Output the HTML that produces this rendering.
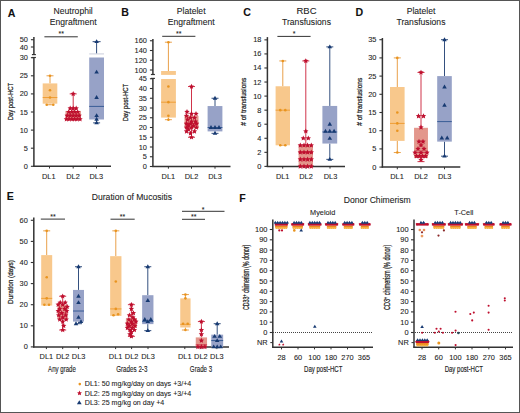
<!DOCTYPE html>
<html><head><meta charset="utf-8"><style>
html,body{margin:0;padding:0;background:#fff;}
body{width:520px;height:413px;overflow:hidden;position:relative;}
svg{display:block;position:absolute;left:0;top:0;}
.frame{position:absolute;left:0;top:0;width:518px;height:411px;border:1px solid #555;pointer-events:none;}
</style></head><body>
<svg width="520" height="413" viewBox="0 0 520 413" font-family='"Liberation Sans", sans-serif'>
<rect x="0" y="0" width="520" height="413" fill="#ffffff" />
<text x="7.8" y="16.6" font-size="10.6" text-anchor="start" font-weight="bold" fill="#111" stroke="#111" stroke-width="0.08" >A</text>
<text x="121.3" y="16.2" font-size="10.6" text-anchor="start" font-weight="bold" fill="#111" stroke="#111" stroke-width="0.08" >B</text>
<text x="243.2" y="16.2" font-size="10.6" text-anchor="start" font-weight="bold" fill="#111" stroke="#111" stroke-width="0.08" >C</text>
<text x="355.4" y="16.2" font-size="10.6" text-anchor="start" font-weight="bold" fill="#111" stroke="#111" stroke-width="0.08" >D</text>
<text x="6.75" y="200" font-size="10.6" text-anchor="start" font-weight="bold" fill="#111" stroke="#111" stroke-width="0.08" >E</text>
<text x="239.25" y="202" font-size="10.6" text-anchor="start" font-weight="bold" fill="#111" stroke="#111" stroke-width="0.08" >F</text>
<text x="73.2" y="14.2" font-size="8.6" text-anchor="middle" font-weight="normal" fill="#222222" stroke="#222222" stroke-width="0.08" >Neutrophil</text>
<text x="73.2" y="24.8" font-size="8.6" text-anchor="middle" font-weight="normal" fill="#222222" stroke="#222222" stroke-width="0.08" >Engraftment</text>
<text x="191.2" y="14.2" font-size="8.6" text-anchor="middle" font-weight="normal" fill="#222222" stroke="#222222" stroke-width="0.08" >Platelet</text>
<text x="191.2" y="24.8" font-size="8.6" text-anchor="middle" font-weight="normal" fill="#222222" stroke="#222222" stroke-width="0.08" >Engraftment</text>
<text x="306.5" y="14.2" font-size="8.6" text-anchor="middle" font-weight="normal" fill="#222222" stroke="#222222" stroke-width="0.08" textLength="20" lengthAdjust="spacingAndGlyphs" >RBC</text>
<text x="306.5" y="24.8" font-size="8.6" text-anchor="middle" font-weight="normal" fill="#222222" stroke="#222222" stroke-width="0.08" >Transfusions</text>
<text x="421" y="14.2" font-size="8.6" text-anchor="middle" font-weight="normal" fill="#222222" stroke="#222222" stroke-width="0.08" >Platelet</text>
<text x="421" y="24.8" font-size="8.6" text-anchor="middle" font-weight="normal" fill="#222222" stroke="#222222" stroke-width="0.08" >Transfusions</text>
<line x1="33.9" y1="57.5" x2="33.9" y2="166.8" stroke="#333333" stroke-width="1.5" />
<line x1="33.9" y1="37" x2="33.9" y2="54.6" stroke="#333333" stroke-width="1.5" />
<line x1="30.9" y1="166.3" x2="33.9" y2="166.3" stroke="#333333" stroke-width="1.1" />
<text x="27.9" y="168.8" font-size="7.4" text-anchor="end" font-weight="normal" fill="#222222" stroke="#222222" stroke-width="0.08" >0</text>
<line x1="30.9" y1="148.20000000000002" x2="33.9" y2="148.20000000000002" stroke="#333333" stroke-width="1.1" />
<text x="27.9" y="150.70000000000002" font-size="7.4" text-anchor="end" font-weight="normal" fill="#222222" stroke="#222222" stroke-width="0.08" >5</text>
<line x1="30.9" y1="130.10000000000002" x2="33.9" y2="130.10000000000002" stroke="#333333" stroke-width="1.1" />
<text x="27.9" y="132.60000000000002" font-size="7.4" text-anchor="end" font-weight="normal" fill="#222222" stroke="#222222" stroke-width="0.08" >10</text>
<line x1="30.9" y1="112.0" x2="33.9" y2="112.0" stroke="#333333" stroke-width="1.1" />
<text x="27.9" y="114.5" font-size="7.4" text-anchor="end" font-weight="normal" fill="#222222" stroke="#222222" stroke-width="0.08" >15</text>
<line x1="30.9" y1="93.9" x2="33.9" y2="93.9" stroke="#333333" stroke-width="1.1" />
<text x="27.9" y="96.4" font-size="7.4" text-anchor="end" font-weight="normal" fill="#222222" stroke="#222222" stroke-width="0.08" >20</text>
<line x1="30.9" y1="75.80000000000001" x2="33.9" y2="75.80000000000001" stroke="#333333" stroke-width="1.1" />
<text x="27.9" y="78.30000000000001" font-size="7.4" text-anchor="end" font-weight="normal" fill="#222222" stroke="#222222" stroke-width="0.08" >25</text>
<line x1="30.9" y1="57.7" x2="33.9" y2="57.7" stroke="#333333" stroke-width="1.1" />
<text x="27.9" y="60.2" font-size="7.4" text-anchor="end" font-weight="normal" fill="#222222" stroke="#222222" stroke-width="0.08" >30</text>
<line x1="30.9" y1="47.0" x2="33.9" y2="47.0" stroke="#333333" stroke-width="1.1" />
<text x="27.9" y="49.5" font-size="7.4" text-anchor="end" font-weight="normal" fill="#222222" stroke="#222222" stroke-width="0.08" >40</text>
<line x1="30.9" y1="39.699999999999996" x2="33.9" y2="39.699999999999996" stroke="#333333" stroke-width="1.1" />
<text x="27.9" y="42.199999999999996" font-size="7.4" text-anchor="end" font-weight="normal" fill="#222222" stroke="#222222" stroke-width="0.08" >50</text>
<line x1="31.9" y1="54.6" x2="35.9" y2="54.6" stroke="#333333" stroke-width="1.2" />
<line x1="31.9" y1="57.5" x2="35.9" y2="57.5" stroke="#333333" stroke-width="1.2" />
<line x1="33.2" y1="166.3" x2="111" y2="166.3" stroke="#333333" stroke-width="1.5" />
<line x1="49.5" y1="166.3" x2="49.5" y2="168.5" stroke="#333333" stroke-width="1" />
<line x1="73.2" y1="166.3" x2="73.2" y2="168.5" stroke="#333333" stroke-width="1" />
<line x1="96.5" y1="166.3" x2="96.5" y2="168.5" stroke="#333333" stroke-width="1" />
<text x="48.75" y="179.1" font-size="7.4" text-anchor="middle" font-weight="normal" fill="#222222" stroke="#222222" stroke-width="0.08" >DL1</text>
<text x="73" y="179.1" font-size="7.4" text-anchor="middle" font-weight="normal" fill="#222222" stroke="#222222" stroke-width="0.08" >DL2</text>
<text x="96.3" y="179.1" font-size="7.4" text-anchor="middle" font-weight="normal" fill="#222222" stroke="#222222" stroke-width="0.08" >DL3</text>
<g transform="translate(12.9 101.6) rotate(-90) scale(0.7590 1)"><text x="-24.71" y="0" fill="#222222" stroke="#222222" stroke-width="0.25"><tspan font-size="7.8" dy="0">Day post-HCT</tspan></text></g>
<line x1="44.4" y1="36.8" x2="77.8" y2="36.8" stroke="#333333" stroke-width="1" />
<text x="61.3" y="36.3" font-size="7" text-anchor="middle" font-weight="normal" fill="#222222" stroke="#222222" stroke-width="0.08" >**</text>
<rect x="89.2" y="57.5" width="14.8" height="62.0" fill="#97A2C7" />
<rect x="89.2" y="53.3" width="14.8" height="1.2" fill="#D3D6E2" />
<line x1="96.6" y1="41.671" x2="96.6" y2="53.3" stroke="#2E4A7A" stroke-width="1" />
<line x1="92.6" y1="41.671" x2="100.6" y2="41.671" stroke="#2E4A7A" stroke-width="1" />
<line x1="93.1" y1="122.86000000000001" x2="100.1" y2="122.86000000000001" stroke="#34507F" stroke-width="1" />
<line x1="96.6" y1="119.5" x2="96.6" y2="122.86000000000001" stroke="#34507F" stroke-width="1" />
<line x1="89.2" y1="106.4" x2="104" y2="106.4" stroke="#2E5590" stroke-width="0.9" />
<polygon points="96.60,39.27 98.88,43.11 94.32,43.11" fill="#173A72"/>
<polygon points="96.60,69.78 98.88,73.62 94.32,73.62" fill="#173A72"/>
<polygon points="96.60,95.12 98.88,98.96 94.32,98.96" fill="#173A72"/>
<polygon points="96.60,113.22 98.88,117.06 94.32,117.06" fill="#173A72"/>
<polygon points="96.60,116.84 98.88,120.68 94.32,120.68" fill="#173A72"/>
<polygon points="96.60,120.46 98.88,124.30 94.32,124.30" fill="#173A72"/>
<line x1="50" y1="75.80000000000001" x2="50" y2="83.40200000000002" stroke="#E9A04A" stroke-width="1" />
<line x1="50" y1="103.674" x2="50" y2="104.76000000000002" stroke="#E9A04A" stroke-width="1" />
<line x1="46.5" y1="75.80000000000001" x2="53.5" y2="75.80000000000001" stroke="#E9A04A" stroke-width="1" />
<line x1="46.5" y1="104.76000000000002" x2="53.5" y2="104.76000000000002" stroke="#E9A04A" stroke-width="1" />
<rect x="42.7" y="83.40200000000002" width="14.6" height="20.27199999999999" fill="#F8C88C" />
<line x1="42.7" y1="97.52000000000001" x2="57.3" y2="97.52000000000001" stroke="#EE9A2E" stroke-width="0.9" />
<circle cx="46.70" cy="104.76" r="1.3" fill="#E9941F"/>
<circle cx="53.30" cy="104.76" r="1.3" fill="#E9941F"/>
<circle cx="50.00" cy="97.52" r="1.3" fill="#E9941F"/>
<circle cx="50.00" cy="90.28" r="1.3" fill="#E9941F"/>
<circle cx="50.00" cy="75.80" r="1.3" fill="#E9941F"/>
<line x1="73.2" y1="93.9" x2="73.2" y2="110.91400000000002" stroke="#D0344A" stroke-width="1" />
<line x1="73.2" y1="119.964" x2="73.2" y2="119.24000000000001" stroke="#D0344A" stroke-width="1" />
<line x1="69.7" y1="93.9" x2="76.7" y2="93.9" stroke="#D0344A" stroke-width="1" />
<line x1="69.7" y1="119.24000000000001" x2="76.7" y2="119.24000000000001" stroke="#D0344A" stroke-width="1" />
<rect x="65.45" y="110.91400000000002" width="15.5" height="9.049999999999983" fill="#E3978C" />
<line x1="65.45" y1="115.62" x2="80.95" y2="115.62" stroke="#D0344A" stroke-width="0.9" />
<polygon points="73.20,91.10 73.99,92.81 75.86,93.03 74.48,94.32 74.85,96.17 73.20,95.24 71.55,96.17 71.92,94.32 70.54,93.03 72.41,92.81" fill="#BE0F2E"/>
<polygon points="70.20,105.58 70.99,107.29 72.86,107.51 71.48,108.80 71.85,110.65 70.20,109.72 68.55,110.65 68.92,108.80 67.54,107.51 69.41,107.29" fill="#BE0F2E"/>
<polygon points="73.20,105.58 73.99,107.29 75.86,107.51 74.48,108.80 74.85,110.65 73.20,109.72 71.55,110.65 71.92,108.80 70.54,107.51 72.41,107.29" fill="#BE0F2E"/>
<polygon points="76.20,105.58 76.99,107.29 78.86,107.51 77.48,108.80 77.85,110.65 76.20,109.72 74.55,110.65 74.92,108.80 73.54,107.51 75.41,107.29" fill="#BE0F2E"/>
<polygon points="68.70,109.20 69.49,110.91 71.36,111.13 69.98,112.42 70.35,114.27 68.70,113.34 67.05,114.27 67.42,112.42 66.04,111.13 67.91,110.91" fill="#BE0F2E"/>
<polygon points="71.70,109.20 72.49,110.91 74.36,111.13 72.98,112.42 73.35,114.27 71.70,113.34 70.05,114.27 70.42,112.42 69.04,111.13 70.91,110.91" fill="#BE0F2E"/>
<polygon points="74.70,109.20 75.49,110.91 77.36,111.13 75.98,112.42 76.35,114.27 74.70,113.34 73.05,114.27 73.42,112.42 72.04,111.13 73.91,110.91" fill="#BE0F2E"/>
<polygon points="77.70,109.20 78.49,110.91 80.36,111.13 78.98,112.42 79.35,114.27 77.70,113.34 76.05,114.27 76.42,112.42 75.04,111.13 76.91,110.91" fill="#BE0F2E"/>
<polygon points="67.20,112.82 67.99,114.53 69.86,114.75 68.48,116.04 68.85,117.89 67.20,116.96 65.55,117.89 65.92,116.04 64.54,114.75 66.41,114.53" fill="#BE0F2E"/>
<polygon points="70.20,112.82 70.99,114.53 72.86,114.75 71.48,116.04 71.85,117.89 70.20,116.96 68.55,117.89 68.92,116.04 67.54,114.75 69.41,114.53" fill="#BE0F2E"/>
<polygon points="73.20,112.82 73.99,114.53 75.86,114.75 74.48,116.04 74.85,117.89 73.20,116.96 71.55,117.89 71.92,116.04 70.54,114.75 72.41,114.53" fill="#BE0F2E"/>
<polygon points="76.20,112.82 76.99,114.53 78.86,114.75 77.48,116.04 77.85,117.89 76.20,116.96 74.55,117.89 74.92,116.04 73.54,114.75 75.41,114.53" fill="#BE0F2E"/>
<polygon points="79.20,112.82 79.99,114.53 81.86,114.75 80.48,116.04 80.85,117.89 79.20,116.96 77.55,117.89 77.92,116.04 76.54,114.75 78.41,114.53" fill="#BE0F2E"/>
<polygon points="66.40,116.44 67.19,118.15 69.06,118.37 67.68,119.66 68.05,121.51 66.40,120.58 64.75,121.51 65.12,119.66 63.74,118.37 65.61,118.15" fill="#BE0F2E"/>
<polygon points="69.20,116.44 69.99,118.15 71.86,118.37 70.48,119.66 70.85,121.51 69.20,120.58 67.55,121.51 67.92,119.66 66.54,118.37 68.41,118.15" fill="#BE0F2E"/>
<polygon points="71.90,116.44 72.69,118.15 74.56,118.37 73.18,119.66 73.55,121.51 71.90,120.58 70.25,121.51 70.62,119.66 69.24,118.37 71.11,118.15" fill="#BE0F2E"/>
<polygon points="74.50,116.44 75.29,118.15 77.16,118.37 75.78,119.66 76.15,121.51 74.50,120.58 72.85,121.51 73.22,119.66 71.84,118.37 73.71,118.15" fill="#BE0F2E"/>
<polygon points="77.20,116.44 77.99,118.15 79.86,118.37 78.48,119.66 78.85,121.51 77.20,120.58 75.55,121.51 75.92,119.66 74.54,118.37 76.41,118.15" fill="#BE0F2E"/>
<polygon points="80.00,116.44 80.79,118.15 82.66,118.37 81.28,119.66 81.65,121.51 80.00,120.58 78.35,121.51 78.72,119.66 77.34,118.37 79.21,118.15" fill="#BE0F2E"/>
<line x1="152.9" y1="78.4" x2="152.9" y2="166.8" stroke="#333333" stroke-width="1.5" />
<line x1="152.9" y1="39" x2="152.9" y2="74.5" stroke="#333333" stroke-width="1.5" />
<line x1="149.9" y1="166.5" x2="152.9" y2="166.5" stroke="#333333" stroke-width="1.1" />
<text x="146.9" y="169.0" font-size="7.4" text-anchor="end" font-weight="normal" fill="#222222" stroke="#222222" stroke-width="0.08" >0</text>
<line x1="149.9" y1="156.75" x2="152.9" y2="156.75" stroke="#333333" stroke-width="1.1" />
<text x="146.9" y="159.25" font-size="7.4" text-anchor="end" font-weight="normal" fill="#222222" stroke="#222222" stroke-width="0.08" >5</text>
<line x1="149.9" y1="147.0" x2="152.9" y2="147.0" stroke="#333333" stroke-width="1.1" />
<text x="146.9" y="149.5" font-size="7.4" text-anchor="end" font-weight="normal" fill="#222222" stroke="#222222" stroke-width="0.08" >10</text>
<line x1="149.9" y1="137.25" x2="152.9" y2="137.25" stroke="#333333" stroke-width="1.1" />
<text x="146.9" y="139.75" font-size="7.4" text-anchor="end" font-weight="normal" fill="#222222" stroke="#222222" stroke-width="0.08" >15</text>
<line x1="149.9" y1="127.5" x2="152.9" y2="127.5" stroke="#333333" stroke-width="1.1" />
<text x="146.9" y="130.0" font-size="7.4" text-anchor="end" font-weight="normal" fill="#222222" stroke="#222222" stroke-width="0.08" >20</text>
<line x1="149.9" y1="117.75" x2="152.9" y2="117.75" stroke="#333333" stroke-width="1.1" />
<text x="146.9" y="120.25" font-size="7.4" text-anchor="end" font-weight="normal" fill="#222222" stroke="#222222" stroke-width="0.08" >25</text>
<line x1="149.9" y1="108.0" x2="152.9" y2="108.0" stroke="#333333" stroke-width="1.1" />
<text x="146.9" y="110.5" font-size="7.4" text-anchor="end" font-weight="normal" fill="#222222" stroke="#222222" stroke-width="0.08" >30</text>
<line x1="149.9" y1="98.25" x2="152.9" y2="98.25" stroke="#333333" stroke-width="1.1" />
<text x="146.9" y="100.75" font-size="7.4" text-anchor="end" font-weight="normal" fill="#222222" stroke="#222222" stroke-width="0.08" >35</text>
<line x1="149.9" y1="88.5" x2="152.9" y2="88.5" stroke="#333333" stroke-width="1.1" />
<text x="146.9" y="91.0" font-size="7.4" text-anchor="end" font-weight="normal" fill="#222222" stroke="#222222" stroke-width="0.08" >40</text>
<line x1="149.9" y1="78.75" x2="152.9" y2="78.75" stroke="#333333" stroke-width="1.1" />
<text x="146.9" y="81.25" font-size="7.4" text-anchor="end" font-weight="normal" fill="#222222" stroke="#222222" stroke-width="0.08" >45</text>
<line x1="149.9" y1="70.0" x2="152.9" y2="70.0" stroke="#333333" stroke-width="1.1" />
<text x="146.9" y="72.5" font-size="7.4" text-anchor="end" font-weight="normal" fill="#222222" stroke="#222222" stroke-width="0.08" >100</text>
<line x1="149.9" y1="60.25" x2="152.9" y2="60.25" stroke="#333333" stroke-width="1.1" />
<text x="146.9" y="62.75" font-size="7.4" text-anchor="end" font-weight="normal" fill="#222222" stroke="#222222" stroke-width="0.08" >120</text>
<line x1="149.9" y1="50.5" x2="152.9" y2="50.5" stroke="#333333" stroke-width="1.1" />
<text x="146.9" y="53.0" font-size="7.4" text-anchor="end" font-weight="normal" fill="#222222" stroke="#222222" stroke-width="0.08" >140</text>
<line x1="149.9" y1="40.75" x2="152.9" y2="40.75" stroke="#333333" stroke-width="1.1" />
<text x="146.9" y="43.25" font-size="7.4" text-anchor="end" font-weight="normal" fill="#222222" stroke="#222222" stroke-width="0.08" >160</text>
<line x1="150.9" y1="74.5" x2="154.9" y2="74.5" stroke="#333333" stroke-width="1.2" />
<line x1="150.9" y1="78.4" x2="154.9" y2="78.4" stroke="#333333" stroke-width="1.2" />
<line x1="152.2" y1="166.5" x2="230.5" y2="166.5" stroke="#333333" stroke-width="1.5" />
<line x1="168.4" y1="166.5" x2="168.4" y2="168.7" stroke="#333333" stroke-width="1" />
<line x1="191.5" y1="166.5" x2="191.5" y2="168.7" stroke="#333333" stroke-width="1" />
<line x1="215" y1="166.5" x2="215" y2="168.7" stroke="#333333" stroke-width="1" />
<text x="168.4" y="179.1" font-size="7.4" text-anchor="middle" font-weight="normal" fill="#222222" stroke="#222222" stroke-width="0.08" >DL1</text>
<text x="191.5" y="179.1" font-size="7.4" text-anchor="middle" font-weight="normal" fill="#222222" stroke="#222222" stroke-width="0.08" >DL2</text>
<text x="215" y="179.1" font-size="7.4" text-anchor="middle" font-weight="normal" fill="#222222" stroke="#222222" stroke-width="0.08" >DL3</text>
<g transform="translate(128.2 102.5) rotate(-90) scale(0.7590 1)"><text x="-24.71" y="0" fill="#222222" stroke="#222222" stroke-width="0.25"><tspan font-size="7.8" dy="0">Day post-HCT</tspan></text></g>
<line x1="162.2" y1="36.3" x2="195.4" y2="36.3" stroke="#333333" stroke-width="1" />
<text x="178.7" y="35.9" font-size="7" text-anchor="middle" font-weight="normal" fill="#222222" stroke="#222222" stroke-width="0.08" >**</text>
<rect x="161.1" y="79.0" width="14.8" height="38.599999999999994" fill="#F8C88C" />
<rect x="161.1" y="71.0" width="14.8" height="3.9" fill="#F8C88C" />
<line x1="168.4" y1="42.212500000000006" x2="168.4" y2="71" stroke="#E9A04A" stroke-width="1" />
<line x1="164.9" y1="42.212500000000006" x2="171.9" y2="42.212500000000006" stroke="#E9A04A" stroke-width="1" />
<line x1="164.9" y1="119.7" x2="171.9" y2="119.7" stroke="#E9A04A" stroke-width="1" />
<line x1="168.4" y1="117.6" x2="168.4" y2="119.7" stroke="#E9A04A" stroke-width="1" />
<line x1="161.1" y1="102.2" x2="175.9" y2="102.2" stroke="#EE9A2E" stroke-width="0.9" />
<circle cx="168.40" cy="42.21" r="1.3" fill="#E9941F"/>
<circle cx="168.40" cy="86.55" r="1.3" fill="#E9941F"/>
<circle cx="168.40" cy="102.15" r="1.3" fill="#E9941F"/>
<circle cx="168.40" cy="115.80" r="1.3" fill="#E9941F"/>
<circle cx="168.40" cy="119.70" r="1.3" fill="#E9941F"/>
<line x1="191.5" y1="86.55" x2="191.5" y2="115.80000000000001" stroke="#D0344A" stroke-width="1" />
<line x1="191.5" y1="128.475" x2="191.5" y2="137.25" stroke="#D0344A" stroke-width="1" />
<line x1="188.0" y1="86.55" x2="195.0" y2="86.55" stroke="#D0344A" stroke-width="1" />
<line x1="188.0" y1="137.25" x2="195.0" y2="137.25" stroke="#D0344A" stroke-width="1" />
<rect x="184.5" y="115.80000000000001" width="14.0" height="12.674999999999983" fill="#E3978C" />
<line x1="184.5" y1="123.6" x2="198.5" y2="123.6" stroke="#D0344A" stroke-width="0.9" />
<polygon points="191.50,83.75 192.29,85.46 194.16,85.68 192.78,86.97 193.15,88.82 191.50,87.89 189.85,88.82 190.22,86.97 188.84,85.68 190.71,85.46" fill="#BE0F2E"/>
<polygon points="187.00,109.10 187.79,110.81 189.66,111.03 188.28,112.32 188.65,114.17 187.00,113.24 185.35,114.17 185.72,112.32 184.34,111.03 186.21,110.81" fill="#BE0F2E"/>
<polygon points="191.50,111.05 192.29,112.76 194.16,112.98 192.78,114.27 193.15,116.12 191.50,115.19 189.85,116.12 190.22,114.27 188.84,112.98 190.71,112.76" fill="#BE0F2E"/>
<polygon points="196.00,111.05 196.79,112.76 198.66,112.98 197.28,114.27 197.65,116.12 196.00,115.19 194.35,116.12 194.72,114.27 193.34,112.98 195.21,112.76" fill="#BE0F2E"/>
<polygon points="186.50,113.00 187.29,114.71 189.16,114.93 187.78,116.22 188.15,118.07 186.50,117.14 184.85,118.07 185.22,116.22 183.84,114.93 185.71,114.71" fill="#BE0F2E"/>
<polygon points="190.50,114.95 191.29,116.66 193.16,116.88 191.78,118.17 192.15,120.02 190.50,119.09 188.85,120.02 189.22,118.17 187.84,116.88 189.71,116.66" fill="#BE0F2E"/>
<polygon points="194.50,114.95 195.29,116.66 197.16,116.88 195.78,118.17 196.15,120.02 194.50,119.09 192.85,120.02 193.22,118.17 191.84,116.88 193.71,116.66" fill="#BE0F2E"/>
<polygon points="187.50,116.90 188.29,118.61 190.16,118.83 188.78,120.12 189.15,121.97 187.50,121.04 185.85,121.97 186.22,120.12 184.84,118.83 186.71,118.61" fill="#BE0F2E"/>
<polygon points="191.50,118.85 192.29,120.56 194.16,120.78 192.78,122.07 193.15,123.92 191.50,122.99 189.85,123.92 190.22,122.07 188.84,120.78 190.71,120.56" fill="#BE0F2E"/>
<polygon points="195.50,118.85 196.29,120.56 198.16,120.78 196.78,122.07 197.15,123.92 195.50,122.99 193.85,123.92 194.22,122.07 192.84,120.78 194.71,120.56" fill="#BE0F2E"/>
<polygon points="186.50,120.80 187.29,122.51 189.16,122.73 187.78,124.02 188.15,125.87 186.50,124.94 184.85,125.87 185.22,124.02 183.84,122.73 185.71,122.51" fill="#BE0F2E"/>
<polygon points="190.50,120.80 191.29,122.51 193.16,122.73 191.78,124.02 192.15,125.87 190.50,124.94 188.85,125.87 189.22,124.02 187.84,122.73 189.71,122.51" fill="#BE0F2E"/>
<polygon points="196.50,120.80 197.29,122.51 199.16,122.73 197.78,124.02 198.15,125.87 196.50,124.94 194.85,125.87 195.22,124.02 193.84,122.73 195.71,122.51" fill="#BE0F2E"/>
<polygon points="188.50,122.75 189.29,124.46 191.16,124.68 189.78,125.97 190.15,127.82 188.50,126.89 186.85,127.82 187.22,125.97 185.84,124.68 187.71,124.46" fill="#BE0F2E"/>
<polygon points="193.50,122.75 194.29,124.46 196.16,124.68 194.78,125.97 195.15,127.82 193.50,126.89 191.85,127.82 192.22,125.97 190.84,124.68 192.71,124.46" fill="#BE0F2E"/>
<polygon points="186.50,124.70 187.29,126.41 189.16,126.63 187.78,127.92 188.15,129.77 186.50,128.84 184.85,129.77 185.22,127.92 183.84,126.63 185.71,126.41" fill="#BE0F2E"/>
<polygon points="191.50,124.70 192.29,126.41 194.16,126.63 192.78,127.92 193.15,129.77 191.50,128.84 189.85,129.77 190.22,127.92 188.84,126.63 190.71,126.41" fill="#BE0F2E"/>
<polygon points="196.50,124.70 197.29,126.41 199.16,126.63 197.78,127.92 198.15,129.77 196.50,128.84 194.85,129.77 195.22,127.92 193.84,126.63 195.71,126.41" fill="#BE0F2E"/>
<polygon points="188.50,126.65 189.29,128.36 191.16,128.58 189.78,129.87 190.15,131.72 188.50,130.79 186.85,131.72 187.22,129.87 185.84,128.58 187.71,128.36" fill="#BE0F2E"/>
<polygon points="186.50,128.60 187.29,130.31 189.16,130.53 187.78,131.82 188.15,133.67 186.50,132.74 184.85,133.67 185.22,131.82 183.84,130.53 185.71,130.31" fill="#BE0F2E"/>
<polygon points="194.50,128.60 195.29,130.31 197.16,130.53 195.78,131.82 196.15,133.67 194.50,132.74 192.85,133.67 193.22,131.82 191.84,130.53 193.71,130.31" fill="#BE0F2E"/>
<polygon points="190.50,130.55 191.29,132.26 193.16,132.48 191.78,133.77 192.15,135.62 190.50,134.69 188.85,135.62 189.22,133.77 187.84,132.48 189.71,132.26" fill="#BE0F2E"/>
<polygon points="191.50,134.45 192.29,136.16 194.16,136.38 192.78,137.67 193.15,139.52 191.50,138.59 189.85,139.52 190.22,137.67 188.84,136.38 190.71,136.16" fill="#BE0F2E"/>
<line x1="215" y1="98.25" x2="215" y2="106.05000000000001" stroke="#34507F" stroke-width="1" />
<line x1="215" y1="131.4" x2="215" y2="133.35" stroke="#34507F" stroke-width="1" />
<line x1="211.5" y1="98.25" x2="218.5" y2="98.25" stroke="#34507F" stroke-width="1" />
<line x1="211.5" y1="133.35" x2="218.5" y2="133.35" stroke="#34507F" stroke-width="1" />
<rect x="207.6" y="106.05000000000001" width="14.8" height="25.349999999999994" fill="#97A2C7" />
<line x1="207.6" y1="127.5" x2="222.4" y2="127.5" stroke="#2E5590" stroke-width="0.9" />
<polygon points="215.00,95.85 217.28,99.69 212.72,99.69" fill="#173A72"/>
<polygon points="211.00,125.10 213.28,128.94 208.72,128.94" fill="#173A72"/>
<polygon points="215.00,125.10 217.28,128.94 212.72,128.94" fill="#173A72"/>
<polygon points="219.00,125.10 221.28,128.94 216.72,128.94" fill="#173A72"/>
<polygon points="215.00,130.95 217.28,134.79 212.72,134.79" fill="#173A72"/>
<line x1="267.4" y1="37.1" x2="267.4" y2="166.9" stroke="#333333" stroke-width="1.5" />
<line x1="264.4" y1="166.4" x2="267.4" y2="166.4" stroke="#333333" stroke-width="1.1" />
<text x="261.4" y="168.9" font-size="7.4" text-anchor="end" font-weight="normal" fill="#222222" stroke="#222222" stroke-width="0.08" >0</text>
<line x1="264.4" y1="152.34" x2="267.4" y2="152.34" stroke="#333333" stroke-width="1.1" />
<text x="261.4" y="154.84" font-size="7.4" text-anchor="end" font-weight="normal" fill="#222222" stroke="#222222" stroke-width="0.08" >2</text>
<line x1="264.4" y1="138.28" x2="267.4" y2="138.28" stroke="#333333" stroke-width="1.1" />
<text x="261.4" y="140.78" font-size="7.4" text-anchor="end" font-weight="normal" fill="#222222" stroke="#222222" stroke-width="0.08" >4</text>
<line x1="264.4" y1="124.22" x2="267.4" y2="124.22" stroke="#333333" stroke-width="1.1" />
<text x="261.4" y="126.72" font-size="7.4" text-anchor="end" font-weight="normal" fill="#222222" stroke="#222222" stroke-width="0.08" >6</text>
<line x1="264.4" y1="110.16" x2="267.4" y2="110.16" stroke="#333333" stroke-width="1.1" />
<text x="261.4" y="112.66" font-size="7.4" text-anchor="end" font-weight="normal" fill="#222222" stroke="#222222" stroke-width="0.08" >8</text>
<line x1="264.4" y1="96.10000000000001" x2="267.4" y2="96.10000000000001" stroke="#333333" stroke-width="1.1" />
<text x="261.4" y="98.60000000000001" font-size="7.4" text-anchor="end" font-weight="normal" fill="#222222" stroke="#222222" stroke-width="0.08" >10</text>
<line x1="264.4" y1="82.04" x2="267.4" y2="82.04" stroke="#333333" stroke-width="1.1" />
<text x="261.4" y="84.54" font-size="7.4" text-anchor="end" font-weight="normal" fill="#222222" stroke="#222222" stroke-width="0.08" >12</text>
<line x1="264.4" y1="67.98" x2="267.4" y2="67.98" stroke="#333333" stroke-width="1.1" />
<text x="261.4" y="70.48" font-size="7.4" text-anchor="end" font-weight="normal" fill="#222222" stroke="#222222" stroke-width="0.08" >14</text>
<line x1="264.4" y1="53.92" x2="267.4" y2="53.92" stroke="#333333" stroke-width="1.1" />
<text x="261.4" y="56.42" font-size="7.4" text-anchor="end" font-weight="normal" fill="#222222" stroke="#222222" stroke-width="0.08" >16</text>
<line x1="264.4" y1="39.86" x2="267.4" y2="39.86" stroke="#333333" stroke-width="1.1" />
<text x="261.4" y="42.36" font-size="7.4" text-anchor="end" font-weight="normal" fill="#222222" stroke="#222222" stroke-width="0.08" >18</text>
<line x1="266.7" y1="166.4" x2="345" y2="166.4" stroke="#333333" stroke-width="1.5" />
<line x1="282.7" y1="166.4" x2="282.7" y2="168.6" stroke="#333333" stroke-width="1" />
<line x1="306" y1="166.4" x2="306" y2="168.6" stroke="#333333" stroke-width="1" />
<line x1="330" y1="166.4" x2="330" y2="168.6" stroke="#333333" stroke-width="1" />
<text x="282.7" y="178.9" font-size="7.4" text-anchor="middle" font-weight="normal" fill="#222222" stroke="#222222" stroke-width="0.08" >DL1</text>
<text x="306" y="178.9" font-size="7.4" text-anchor="middle" font-weight="normal" fill="#222222" stroke="#222222" stroke-width="0.08" >DL2</text>
<text x="330.5" y="178.9" font-size="7.4" text-anchor="middle" font-weight="normal" fill="#222222" stroke="#222222" stroke-width="0.08" >DL3</text>
<g transform="translate(246.2 101.75) rotate(-90) scale(0.8387 1)"><text x="-28.62" y="0" fill="#222222" stroke="#222222" stroke-width="0.25"><tspan font-size="7.8" dy="0"># of transfusions</tspan></text></g>
<line x1="277.4" y1="36.4" x2="310.6" y2="36.4" stroke="#333333" stroke-width="1" />
<text x="294" y="36.0" font-size="7" text-anchor="middle" font-weight="normal" fill="#222222" stroke="#222222" stroke-width="0.08" >*</text>
<line x1="282.8" y1="60.95" x2="282.8" y2="86.258" stroke="#E9A04A" stroke-width="1" />
<line x1="282.8" y1="145.31" x2="282.8" y2="145.31" stroke="#E9A04A" stroke-width="1" />
<line x1="279.3" y1="60.95" x2="286.3" y2="60.95" stroke="#E9A04A" stroke-width="1" />
<line x1="279.3" y1="145.31" x2="286.3" y2="145.31" stroke="#E9A04A" stroke-width="1" />
<rect x="275.6" y="86.258" width="14.4" height="59.05200000000001" fill="#F8C88C" />
<line x1="275.6" y1="110.16" x2="290.0" y2="110.16" stroke="#EE9A2E" stroke-width="0.9" />
<circle cx="280.30" cy="110.16" r="1.3" fill="#E9941F"/>
<circle cx="285.30" cy="110.16" r="1.3" fill="#E9941F"/>
<circle cx="280.30" cy="145.31" r="1.3" fill="#E9941F"/>
<circle cx="285.30" cy="145.31" r="1.3" fill="#E9941F"/>
<circle cx="282.80" cy="60.95" r="1.3" fill="#E9941F"/>
<line x1="305.8" y1="60.95" x2="305.8" y2="145.31" stroke="#D0344A" stroke-width="1" />
<line x1="305.8" y1="166.4" x2="305.8" y2="166.4" stroke="#D0344A" stroke-width="1" />
<line x1="302.3" y1="60.95" x2="309.3" y2="60.95" stroke="#D0344A" stroke-width="1" />
<line x1="302.3" y1="166.4" x2="309.3" y2="166.4" stroke="#D0344A" stroke-width="1" />
<rect x="298.6" y="145.31" width="14.4" height="21.090000000000003" fill="#E3978C" />
<line x1="298.6" y1="152.34" x2="313.0" y2="152.34" stroke="#D0344A" stroke-width="0.9" />
<polygon points="305.80,58.15 306.59,59.86 308.46,60.08 307.08,61.37 307.45,63.22 305.80,62.29 304.15,63.22 304.52,61.37 303.14,60.08 305.01,59.86" fill="#BE0F2E"/>
<polygon points="305.80,128.45 306.59,130.16 308.46,130.38 307.08,131.67 307.45,133.52 305.80,132.59 304.15,133.52 304.52,131.67 303.14,130.38 305.01,130.16" fill="#BE0F2E"/>
<polygon points="303.30,135.48 304.09,137.19 305.96,137.41 304.58,138.70 304.95,140.55 303.30,139.62 301.65,140.55 302.02,138.70 300.64,137.41 302.51,137.19" fill="#BE0F2E"/>
<polygon points="308.30,135.48 309.09,137.19 310.96,137.41 309.58,138.70 309.95,140.55 308.30,139.62 306.65,140.55 307.02,138.70 305.64,137.41 307.51,137.19" fill="#BE0F2E"/>
<polygon points="300.30,142.51 301.09,144.22 302.96,144.44 301.58,145.73 301.95,147.58 300.30,146.65 298.65,147.58 299.02,145.73 297.64,144.44 299.51,144.22" fill="#BE0F2E"/>
<polygon points="304.00,142.51 304.79,144.22 306.66,144.44 305.28,145.73 305.65,147.58 304.00,146.65 302.35,147.58 302.72,145.73 301.34,144.44 303.21,144.22" fill="#BE0F2E"/>
<polygon points="307.60,142.51 308.39,144.22 310.26,144.44 308.88,145.73 309.25,147.58 307.60,146.65 305.95,147.58 306.32,145.73 304.94,144.44 306.81,144.22" fill="#BE0F2E"/>
<polygon points="311.30,142.51 312.09,144.22 313.96,144.44 312.58,145.73 312.95,147.58 311.30,146.65 309.65,147.58 310.02,145.73 308.64,144.44 310.51,144.22" fill="#BE0F2E"/>
<polygon points="300.30,149.54 301.09,151.25 302.96,151.47 301.58,152.76 301.95,154.61 300.30,153.68 298.65,154.61 299.02,152.76 297.64,151.47 299.51,151.25" fill="#BE0F2E"/>
<polygon points="304.00,149.54 304.79,151.25 306.66,151.47 305.28,152.76 305.65,154.61 304.00,153.68 302.35,154.61 302.72,152.76 301.34,151.47 303.21,151.25" fill="#BE0F2E"/>
<polygon points="307.60,149.54 308.39,151.25 310.26,151.47 308.88,152.76 309.25,154.61 307.60,153.68 305.95,154.61 306.32,152.76 304.94,151.47 306.81,151.25" fill="#BE0F2E"/>
<polygon points="311.30,149.54 312.09,151.25 313.96,151.47 312.58,152.76 312.95,154.61 311.30,153.68 309.65,154.61 310.02,152.76 308.64,151.47 310.51,151.25" fill="#BE0F2E"/>
<polygon points="300.30,156.57 301.09,158.28 302.96,158.50 301.58,159.79 301.95,161.64 300.30,160.71 298.65,161.64 299.02,159.79 297.64,158.50 299.51,158.28" fill="#BE0F2E"/>
<polygon points="304.00,156.57 304.79,158.28 306.66,158.50 305.28,159.79 305.65,161.64 304.00,160.71 302.35,161.64 302.72,159.79 301.34,158.50 303.21,158.28" fill="#BE0F2E"/>
<polygon points="307.60,156.57 308.39,158.28 310.26,158.50 308.88,159.79 309.25,161.64 307.60,160.71 305.95,161.64 306.32,159.79 304.94,158.50 306.81,158.28" fill="#BE0F2E"/>
<polygon points="311.30,156.57 312.09,158.28 313.96,158.50 312.58,159.79 312.95,161.64 311.30,160.71 309.65,161.64 310.02,159.79 308.64,158.50 310.51,158.28" fill="#BE0F2E"/>
<polygon points="300.30,163.60 301.09,165.31 302.96,165.53 301.58,166.82 301.95,168.67 300.30,167.74 298.65,168.67 299.02,166.82 297.64,165.53 299.51,165.31" fill="#BE0F2E"/>
<polygon points="304.00,163.60 304.79,165.31 306.66,165.53 305.28,166.82 305.65,168.67 304.00,167.74 302.35,168.67 302.72,166.82 301.34,165.53 303.21,165.31" fill="#BE0F2E"/>
<polygon points="307.60,163.60 308.39,165.31 310.26,165.53 308.88,166.82 309.25,168.67 307.60,167.74 305.95,168.67 306.32,166.82 304.94,165.53 306.81,165.31" fill="#BE0F2E"/>
<polygon points="311.30,163.60 312.09,165.31 313.96,165.53 312.58,166.82 312.95,168.67 311.30,167.74 309.65,168.67 310.02,166.82 308.64,165.53 310.51,165.31" fill="#BE0F2E"/>
<line x1="329.8" y1="46.89" x2="329.8" y2="105.94200000000001" stroke="#34507F" stroke-width="1" />
<line x1="329.8" y1="143.5525" x2="329.8" y2="159.37" stroke="#34507F" stroke-width="1" />
<line x1="326.3" y1="46.89" x2="333.3" y2="46.89" stroke="#34507F" stroke-width="1" />
<line x1="326.3" y1="159.37" x2="333.3" y2="159.37" stroke="#34507F" stroke-width="1" />
<rect x="322.40000000000003" y="105.94200000000001" width="14.8" height="37.6105" fill="#97A2C7" />
<line x1="322.40000000000003" y1="131.953" x2="337.2" y2="131.953" stroke="#2E5590" stroke-width="0.9" />
<polygon points="329.80,44.49 332.08,48.33 327.52,48.33" fill="#173A72"/>
<polygon points="329.80,121.82 332.08,125.66 327.52,125.66" fill="#173A72"/>
<polygon points="325.50,128.85 327.78,132.69 323.22,132.69" fill="#173A72"/>
<polygon points="329.80,128.85 332.08,132.69 327.52,132.69" fill="#173A72"/>
<polygon points="334.10,128.85 336.38,132.69 331.82,132.69" fill="#173A72"/>
<polygon points="329.80,135.88 332.08,139.72 327.52,139.72" fill="#173A72"/>
<polygon points="329.80,156.97 332.08,160.81 327.52,160.81" fill="#173A72"/>
<line x1="382.4" y1="38.0" x2="382.4" y2="167.6" stroke="#333333" stroke-width="1.5" />
<line x1="379.4" y1="167.1" x2="382.4" y2="167.1" stroke="#333333" stroke-width="1.1" />
<text x="376.4" y="169.6" font-size="7.4" text-anchor="end" font-weight="normal" fill="#222222" stroke="#222222" stroke-width="0.08" >0</text>
<line x1="379.4" y1="148.9" x2="382.4" y2="148.9" stroke="#333333" stroke-width="1.1" />
<text x="376.4" y="151.4" font-size="7.4" text-anchor="end" font-weight="normal" fill="#222222" stroke="#222222" stroke-width="0.08" >5</text>
<line x1="379.4" y1="130.7" x2="382.4" y2="130.7" stroke="#333333" stroke-width="1.1" />
<text x="376.4" y="133.2" font-size="7.4" text-anchor="end" font-weight="normal" fill="#222222" stroke="#222222" stroke-width="0.08" >10</text>
<line x1="379.4" y1="112.5" x2="382.4" y2="112.5" stroke="#333333" stroke-width="1.1" />
<text x="376.4" y="115.0" font-size="7.4" text-anchor="end" font-weight="normal" fill="#222222" stroke="#222222" stroke-width="0.08" >15</text>
<line x1="379.4" y1="94.3" x2="382.4" y2="94.3" stroke="#333333" stroke-width="1.1" />
<text x="376.4" y="96.8" font-size="7.4" text-anchor="end" font-weight="normal" fill="#222222" stroke="#222222" stroke-width="0.08" >20</text>
<line x1="379.4" y1="76.1" x2="382.4" y2="76.1" stroke="#333333" stroke-width="1.1" />
<text x="376.4" y="78.6" font-size="7.4" text-anchor="end" font-weight="normal" fill="#222222" stroke="#222222" stroke-width="0.08" >25</text>
<line x1="379.4" y1="57.89999999999999" x2="382.4" y2="57.89999999999999" stroke="#333333" stroke-width="1.1" />
<text x="376.4" y="60.39999999999999" font-size="7.4" text-anchor="end" font-weight="normal" fill="#222222" stroke="#222222" stroke-width="0.08" >30</text>
<line x1="379.4" y1="39.69999999999999" x2="382.4" y2="39.69999999999999" stroke="#333333" stroke-width="1.1" />
<text x="376.4" y="42.19999999999999" font-size="7.4" text-anchor="end" font-weight="normal" fill="#222222" stroke="#222222" stroke-width="0.08" >35</text>
<line x1="381.7" y1="167.1" x2="460.3" y2="167.1" stroke="#333333" stroke-width="1.5" />
<line x1="397.3" y1="167.1" x2="397.3" y2="169.3" stroke="#333333" stroke-width="1" />
<line x1="421" y1="167.1" x2="421" y2="169.3" stroke="#333333" stroke-width="1" />
<line x1="444.5" y1="167.1" x2="444.5" y2="169.3" stroke="#333333" stroke-width="1" />
<text x="397" y="178.9" font-size="7.4" text-anchor="middle" font-weight="normal" fill="#222222" stroke="#222222" stroke-width="0.08" >DL1</text>
<text x="421" y="178.9" font-size="7.4" text-anchor="middle" font-weight="normal" fill="#222222" stroke="#222222" stroke-width="0.08" >DL2</text>
<text x="444.7" y="178.9" font-size="7.4" text-anchor="middle" font-weight="normal" fill="#222222" stroke="#222222" stroke-width="0.08" >DL3</text>
<g transform="translate(361.9 101.75) rotate(-90) scale(0.8387 1)"><text x="-28.62" y="0" fill="#222222" stroke="#222222" stroke-width="0.25"><tspan font-size="7.8" dy="0"># of transfusions</tspan></text></g>
<line x1="397.3" y1="57.89999999999999" x2="397.3" y2="87.02" stroke="#E9A04A" stroke-width="1" />
<line x1="397.3" y1="140.892" x2="397.3" y2="152.54" stroke="#E9A04A" stroke-width="1" />
<line x1="393.8" y1="57.89999999999999" x2="400.8" y2="57.89999999999999" stroke="#E9A04A" stroke-width="1" />
<line x1="393.8" y1="152.54" x2="400.8" y2="152.54" stroke="#E9A04A" stroke-width="1" />
<rect x="390.0" y="87.02" width="14.6" height="53.872" fill="#F8C88C" />
<line x1="390.0" y1="123.41999999999999" x2="404.6" y2="123.41999999999999" stroke="#EE9A2E" stroke-width="0.9" />
<circle cx="397.30" cy="112.50" r="1.3" fill="#E9941F"/>
<circle cx="397.30" cy="123.42" r="1.3" fill="#E9941F"/>
<circle cx="397.30" cy="130.70" r="1.3" fill="#E9941F"/>
<circle cx="397.30" cy="152.54" r="1.3" fill="#E9941F"/>
<circle cx="397.30" cy="57.90" r="1.3" fill="#E9941F"/>
<line x1="421" y1="72.46" x2="421" y2="127.78799999999998" stroke="#D0344A" stroke-width="1" />
<line x1="421" y1="158.0" x2="421" y2="161.64" stroke="#D0344A" stroke-width="1" />
<line x1="417.5" y1="72.46" x2="424.5" y2="72.46" stroke="#D0344A" stroke-width="1" />
<line x1="417.5" y1="161.64" x2="424.5" y2="161.64" stroke="#D0344A" stroke-width="1" />
<rect x="414.05" y="127.78799999999998" width="13.9" height="30.212000000000018" fill="#E3978C" />
<line x1="414.05" y1="152.54" x2="427.95" y2="152.54" stroke="#D0344A" stroke-width="0.9" />
<polygon points="421.00,69.66 421.79,71.37 423.66,71.59 422.28,72.88 422.65,74.73 421.00,73.80 419.35,74.73 419.72,72.88 418.34,71.59 420.21,71.37" fill="#BE0F2E"/>
<polygon points="418.50,113.34 419.29,115.05 421.16,115.27 419.78,116.56 420.15,118.41 418.50,117.48 416.85,118.41 417.22,116.56 415.84,115.27 417.71,115.05" fill="#BE0F2E"/>
<polygon points="423.50,113.34 424.29,115.05 426.16,115.27 424.78,116.56 425.15,118.41 423.50,117.48 421.85,118.41 422.22,116.56 420.84,115.27 422.71,115.05" fill="#BE0F2E"/>
<polygon points="421.00,124.62 421.79,126.34 423.66,126.56 422.28,127.84 422.65,129.69 421.00,128.77 419.35,129.69 419.72,127.84 418.34,126.56 420.21,126.34" fill="#BE0F2E"/>
<polygon points="419.00,138.82 419.79,140.53 421.66,140.75 420.28,142.04 420.65,143.89 419.00,142.96 417.35,143.89 417.72,142.04 416.34,140.75 418.21,140.53" fill="#BE0F2E"/>
<polygon points="423.00,138.82 423.79,140.53 425.66,140.75 424.28,142.04 424.65,143.89 423.00,142.96 421.35,143.89 421.72,142.04 420.34,140.75 422.21,140.53" fill="#BE0F2E"/>
<polygon points="421.00,142.46 421.79,144.17 423.66,144.39 422.28,145.68 422.65,147.53 421.00,146.60 419.35,147.53 419.72,145.68 418.34,144.39 420.21,144.17" fill="#BE0F2E"/>
<polygon points="418.00,146.10 418.79,147.81 420.66,148.03 419.28,149.32 419.65,151.17 418.00,150.24 416.35,151.17 416.72,149.32 415.34,148.03 417.21,147.81" fill="#BE0F2E"/>
<polygon points="424.00,146.10 424.79,147.81 426.66,148.03 425.28,149.32 425.65,151.17 424.00,150.24 422.35,151.17 422.72,149.32 421.34,148.03 423.21,147.81" fill="#BE0F2E"/>
<polygon points="415.00,149.74 415.79,151.45 417.66,151.67 416.28,152.96 416.65,154.81 415.00,153.88 413.35,154.81 413.72,152.96 412.34,151.67 414.21,151.45" fill="#BE0F2E"/>
<polygon points="421.00,149.74 421.79,151.45 423.66,151.67 422.28,152.96 422.65,154.81 421.00,153.88 419.35,154.81 419.72,152.96 418.34,151.67 420.21,151.45" fill="#BE0F2E"/>
<polygon points="427.00,149.74 427.79,151.45 429.66,151.67 428.28,152.96 428.65,154.81 427.00,153.88 425.35,154.81 425.72,152.96 424.34,151.67 426.21,151.45" fill="#BE0F2E"/>
<polygon points="416.50,153.38 417.29,155.09 419.16,155.31 417.78,156.60 418.15,158.45 416.50,157.52 414.85,158.45 415.22,156.60 413.84,155.31 415.71,155.09" fill="#BE0F2E"/>
<polygon points="419.50,153.38 420.29,155.09 422.16,155.31 420.78,156.60 421.15,158.45 419.50,157.52 417.85,158.45 418.22,156.60 416.84,155.31 418.71,155.09" fill="#BE0F2E"/>
<polygon points="422.50,153.38 423.29,155.09 425.16,155.31 423.78,156.60 424.15,158.45 422.50,157.52 420.85,158.45 421.22,156.60 419.84,155.31 421.71,155.09" fill="#BE0F2E"/>
<polygon points="425.50,153.38 426.29,155.09 428.16,155.31 426.78,156.60 427.15,158.45 425.50,157.52 423.85,158.45 424.22,156.60 422.84,155.31 424.71,155.09" fill="#BE0F2E"/>
<polygon points="421.00,157.02 421.79,158.73 423.66,158.95 422.28,160.24 422.65,162.09 421.00,161.16 419.35,162.09 419.72,160.24 418.34,158.95 420.21,158.73" fill="#BE0F2E"/>
<line x1="444.5" y1="39.69999999999999" x2="444.5" y2="76.1" stroke="#34507F" stroke-width="1" />
<line x1="444.5" y1="141.62" x2="444.5" y2="156.18" stroke="#34507F" stroke-width="1" />
<line x1="441.0" y1="39.69999999999999" x2="448.0" y2="39.69999999999999" stroke="#34507F" stroke-width="1" />
<line x1="441.0" y1="156.18" x2="448.0" y2="156.18" stroke="#34507F" stroke-width="1" />
<rect x="437.2" y="76.1" width="14.6" height="65.52000000000001" fill="#97A2C7" />
<line x1="437.2" y1="121.6" x2="451.8" y2="121.6" stroke="#2E5590" stroke-width="0.9" />
<polygon points="444.50,37.30 446.78,41.14 442.22,41.14" fill="#173A72"/>
<polygon points="444.50,84.62 446.78,88.46 442.22,88.46" fill="#173A72"/>
<polygon points="444.50,102.82 446.78,106.66 442.22,106.66" fill="#173A72"/>
<polygon points="441.80,135.58 444.08,139.42 439.52,139.42" fill="#173A72"/>
<polygon points="447.20,135.58 449.48,139.42 444.92,139.42" fill="#173A72"/>
<polygon points="444.50,153.78 446.78,157.62 442.22,157.62" fill="#173A72"/>
<line x1="33.8" y1="217.6" x2="33.8" y2="347.4" stroke="#333333" stroke-width="1.5" />
<line x1="30.799999999999997" y1="346.9" x2="33.8" y2="346.9" stroke="#333333" stroke-width="1.1" />
<text x="27.799999999999997" y="349.4" font-size="7.4" text-anchor="end" font-weight="normal" fill="#222222" stroke="#222222" stroke-width="0.08" >0</text>
<line x1="30.799999999999997" y1="325.79999999999995" x2="33.8" y2="325.79999999999995" stroke="#333333" stroke-width="1.1" />
<text x="27.799999999999997" y="328.29999999999995" font-size="7.4" text-anchor="end" font-weight="normal" fill="#222222" stroke="#222222" stroke-width="0.08" >10</text>
<line x1="30.799999999999997" y1="304.7" x2="33.8" y2="304.7" stroke="#333333" stroke-width="1.1" />
<text x="27.799999999999997" y="307.2" font-size="7.4" text-anchor="end" font-weight="normal" fill="#222222" stroke="#222222" stroke-width="0.08" >20</text>
<line x1="30.799999999999997" y1="283.59999999999997" x2="33.8" y2="283.59999999999997" stroke="#333333" stroke-width="1.1" />
<text x="27.799999999999997" y="286.09999999999997" font-size="7.4" text-anchor="end" font-weight="normal" fill="#222222" stroke="#222222" stroke-width="0.08" >30</text>
<line x1="30.799999999999997" y1="262.5" x2="33.8" y2="262.5" stroke="#333333" stroke-width="1.1" />
<text x="27.799999999999997" y="265.0" font-size="7.4" text-anchor="end" font-weight="normal" fill="#222222" stroke="#222222" stroke-width="0.08" >40</text>
<line x1="30.799999999999997" y1="241.39999999999998" x2="33.8" y2="241.39999999999998" stroke="#333333" stroke-width="1.1" />
<text x="27.799999999999997" y="243.89999999999998" font-size="7.4" text-anchor="end" font-weight="normal" fill="#222222" stroke="#222222" stroke-width="0.08" >50</text>
<line x1="30.799999999999997" y1="220.29999999999998" x2="33.8" y2="220.29999999999998" stroke="#333333" stroke-width="1.1" />
<text x="27.799999999999997" y="222.79999999999998" font-size="7.4" text-anchor="end" font-weight="normal" fill="#222222" stroke="#222222" stroke-width="0.08" >60</text>
<line x1="33.1" y1="346.9" x2="229" y2="346.9" stroke="#333333" stroke-width="1.5" />
<line x1="46.4" y1="346.9" x2="46.4" y2="349.1" stroke="#333333" stroke-width="1" />
<text x="46.4" y="359.3" font-size="7.4" text-anchor="middle" font-weight="normal" fill="#222222" stroke="#222222" stroke-width="0.08" >DL1</text>
<line x1="62.7" y1="346.9" x2="62.7" y2="349.1" stroke="#333333" stroke-width="1" />
<text x="62.7" y="359.3" font-size="7.4" text-anchor="middle" font-weight="normal" fill="#222222" stroke="#222222" stroke-width="0.08" >DL2</text>
<line x1="78.6" y1="346.9" x2="78.6" y2="349.1" stroke="#333333" stroke-width="1" />
<text x="78.6" y="359.3" font-size="7.4" text-anchor="middle" font-weight="normal" fill="#222222" stroke="#222222" stroke-width="0.08" >DL3</text>
<text x="62" y="371.7" font-size="8.3" text-anchor="middle" font-weight="normal" fill="#222222" stroke="#222222" textLength="27.8" lengthAdjust="spacingAndGlyphs" stroke-width="0.12">Any grade</text>
<line x1="115.6" y1="346.9" x2="115.6" y2="349.1" stroke="#333333" stroke-width="1" />
<text x="115.6" y="359.3" font-size="7.4" text-anchor="middle" font-weight="normal" fill="#222222" stroke="#222222" stroke-width="0.08" >DL1</text>
<line x1="131.6" y1="346.9" x2="131.6" y2="349.1" stroke="#333333" stroke-width="1" />
<text x="131.6" y="359.3" font-size="7.4" text-anchor="middle" font-weight="normal" fill="#222222" stroke="#222222" stroke-width="0.08" >DL2</text>
<line x1="148" y1="346.9" x2="148" y2="349.1" stroke="#333333" stroke-width="1" />
<text x="148" y="359.3" font-size="7.4" text-anchor="middle" font-weight="normal" fill="#222222" stroke="#222222" stroke-width="0.08" >DL3</text>
<text x="131.8" y="371.7" font-size="8.3" text-anchor="middle" font-weight="normal" fill="#222222" stroke="#222222" textLength="31.3" lengthAdjust="spacingAndGlyphs" stroke-width="0.12">Grades 2-3</text>
<line x1="184.8" y1="346.9" x2="184.8" y2="349.1" stroke="#333333" stroke-width="1" />
<text x="184.8" y="359.3" font-size="7.4" text-anchor="middle" font-weight="normal" fill="#222222" stroke="#222222" stroke-width="0.08" >DL1</text>
<line x1="200.9" y1="346.9" x2="200.9" y2="349.1" stroke="#333333" stroke-width="1" />
<text x="200.9" y="359.3" font-size="7.4" text-anchor="middle" font-weight="normal" fill="#222222" stroke="#222222" stroke-width="0.08" >DL2</text>
<line x1="216.9" y1="346.9" x2="216.9" y2="349.1" stroke="#333333" stroke-width="1" />
<text x="216.9" y="359.3" font-size="7.4" text-anchor="middle" font-weight="normal" fill="#222222" stroke="#222222" stroke-width="0.08" >DL3</text>
<text x="201" y="371.7" font-size="8.3" text-anchor="middle" font-weight="normal" fill="#222222" stroke="#222222" textLength="22.3" lengthAdjust="spacingAndGlyphs" stroke-width="0.12">Grade 3</text>
<g transform="translate(13.3 282.05) rotate(-90) scale(0.8195 1)"><text x="-26.66" y="0" fill="#222222" stroke="#222222" stroke-width="0.25"><tspan font-size="7.8" dy="0">Duration (days)</tspan></text></g>
<text x="131.9" y="200" font-size="8.6" text-anchor="middle" font-weight="normal" fill="#222222" stroke="#222222" stroke-width="0.08" >Duration of Mucositis</text>
<line x1="40.8" y1="219.1" x2="65" y2="219.1" stroke="#333333" stroke-width="1" />
<text x="52.9" y="219.3" font-size="7" text-anchor="middle" font-weight="normal" fill="#222222" stroke="#222222" stroke-width="0.08" >**</text>
<line x1="110.5" y1="219.2" x2="134.7" y2="219.2" stroke="#333333" stroke-width="1" />
<text x="122.6" y="219.3" font-size="7" text-anchor="middle" font-weight="normal" fill="#222222" stroke="#222222" stroke-width="0.08" >**</text>
<line x1="182" y1="211.3" x2="224.5" y2="211.3" stroke="#333333" stroke-width="1" />
<text x="203" y="211.6" font-size="7" text-anchor="middle" font-weight="normal" fill="#222222" stroke="#222222" stroke-width="0.08" >*</text>
<line x1="182" y1="219.3" x2="205" y2="219.3" stroke="#333333" stroke-width="1" />
<text x="193.7" y="219.3" font-size="7" text-anchor="middle" font-weight="normal" fill="#222222" stroke="#222222" stroke-width="0.08" >**</text>
<line x1="46.7" y1="230.84999999999997" x2="46.7" y2="255.11499999999998" stroke="#E9A04A" stroke-width="1" />
<line x1="46.7" y1="305.544" x2="46.7" y2="304.7" stroke="#E9A04A" stroke-width="1" />
<line x1="43.2" y1="230.84999999999997" x2="50.2" y2="230.84999999999997" stroke="#E9A04A" stroke-width="1" />
<line x1="43.2" y1="304.7" x2="50.2" y2="304.7" stroke="#E9A04A" stroke-width="1" />
<rect x="41.2" y="255.11499999999998" width="11" height="50.429" fill="#F8C88C" />
<line x1="41.2" y1="298.37" x2="52.2" y2="298.37" stroke="#EE9A2E" stroke-width="0.9" />
<circle cx="46.70" cy="230.85" r="1.3" fill="#E9941F"/>
<circle cx="46.70" cy="277.27" r="1.3" fill="#E9941F"/>
<circle cx="46.70" cy="298.37" r="1.3" fill="#E9941F"/>
<circle cx="44.40" cy="304.70" r="1.3" fill="#E9941F"/>
<circle cx="49.00" cy="304.70" r="1.3" fill="#E9941F"/>
<line x1="62.7" y1="296.26" x2="62.7" y2="304.7" stroke="#D0344A" stroke-width="1" />
<line x1="62.7" y1="319.46999999999997" x2="62.7" y2="330.02" stroke="#D0344A" stroke-width="1" />
<line x1="59.2" y1="296.26" x2="66.2" y2="296.26" stroke="#D0344A" stroke-width="1" />
<line x1="59.2" y1="330.02" x2="66.2" y2="330.02" stroke="#D0344A" stroke-width="1" />
<rect x="57.7" y="304.7" width="10" height="14.769999999999982" fill="#E3978C" />
<line x1="57.7" y1="313.14" x2="67.7" y2="313.14" stroke="#D0344A" stroke-width="0.9" />
<polygon points="62.70,293.46 63.49,295.17 65.36,295.39 63.98,296.68 64.35,298.53 62.70,297.60 61.05,298.53 61.42,296.68 60.04,295.39 61.91,295.17" fill="#BE0F2E"/>
<polygon points="60.20,299.79 60.99,301.50 62.86,301.72 61.48,303.01 61.85,304.86 60.20,303.93 58.55,304.86 58.92,303.01 57.54,301.72 59.41,301.50" fill="#BE0F2E"/>
<polygon points="65.20,299.79 65.99,301.50 67.86,301.72 66.48,303.01 66.85,304.86 65.20,303.93 63.55,304.86 63.92,303.01 62.54,301.72 64.41,301.50" fill="#BE0F2E"/>
<polygon points="58.20,301.90 58.99,303.61 60.86,303.83 59.48,305.12 59.85,306.97 58.20,306.04 56.55,306.97 56.92,305.12 55.54,303.83 57.41,303.61" fill="#BE0F2E"/>
<polygon points="62.70,301.90 63.49,303.61 65.36,303.83 63.98,305.12 64.35,306.97 62.70,306.04 61.05,306.97 61.42,305.12 60.04,303.83 61.91,303.61" fill="#BE0F2E"/>
<polygon points="67.20,304.01 67.99,305.72 69.86,305.94 68.48,307.23 68.85,309.08 67.20,308.15 65.55,309.08 65.92,307.23 64.54,305.94 66.41,305.72" fill="#BE0F2E"/>
<polygon points="59.70,306.12 60.49,307.83 62.36,308.05 60.98,309.34 61.35,311.19 59.70,310.26 58.05,311.19 58.42,309.34 57.04,308.05 58.91,307.83" fill="#BE0F2E"/>
<polygon points="64.70,306.12 65.49,307.83 67.36,308.05 65.98,309.34 66.35,311.19 64.70,310.26 63.05,311.19 63.42,309.34 62.04,308.05 63.91,307.83" fill="#BE0F2E"/>
<polygon points="58.20,308.23 58.99,309.94 60.86,310.16 59.48,311.45 59.85,313.30 58.20,312.37 56.55,313.30 56.92,311.45 55.54,310.16 57.41,309.94" fill="#BE0F2E"/>
<polygon points="66.70,308.23 67.49,309.94 69.36,310.16 67.98,311.45 68.35,313.30 66.70,312.37 65.05,313.30 65.42,311.45 64.04,310.16 65.91,309.94" fill="#BE0F2E"/>
<polygon points="61.70,310.34 62.49,312.05 64.36,312.27 62.98,313.56 63.35,315.41 61.70,314.48 60.05,315.41 60.42,313.56 59.04,312.27 60.91,312.05" fill="#BE0F2E"/>
<polygon points="58.70,312.45 59.49,314.16 61.36,314.38 59.98,315.67 60.35,317.52 58.70,316.59 57.05,317.52 57.42,315.67 56.04,314.38 57.91,314.16" fill="#BE0F2E"/>
<polygon points="65.70,312.45 66.49,314.16 68.36,314.38 66.98,315.67 67.35,317.52 65.70,316.59 64.05,317.52 64.42,315.67 63.04,314.38 64.91,314.16" fill="#BE0F2E"/>
<polygon points="62.70,314.56 63.49,316.27 65.36,316.49 63.98,317.78 64.35,319.63 62.70,318.70 61.05,319.63 61.42,317.78 60.04,316.49 61.91,316.27" fill="#BE0F2E"/>
<polygon points="59.70,316.67 60.49,318.38 62.36,318.60 60.98,319.89 61.35,321.74 59.70,320.81 58.05,321.74 58.42,319.89 57.04,318.60 58.91,318.38" fill="#BE0F2E"/>
<polygon points="66.20,316.67 66.99,318.38 68.86,318.60 67.48,319.89 67.85,321.74 66.20,320.81 64.55,321.74 64.92,319.89 63.54,318.60 65.41,318.38" fill="#BE0F2E"/>
<polygon points="62.70,318.78 63.49,320.49 65.36,320.71 63.98,322.00 64.35,323.85 62.70,322.92 61.05,323.85 61.42,322.00 60.04,320.71 61.91,320.49" fill="#BE0F2E"/>
<polygon points="63.70,323.00 64.49,324.71 66.36,324.93 64.98,326.22 65.35,328.07 63.70,327.14 62.05,328.07 62.42,326.22 61.04,324.93 62.91,324.71" fill="#BE0F2E"/>
<polygon points="62.70,327.22 63.49,328.93 65.36,329.15 63.98,330.44 64.35,332.29 62.70,331.36 61.05,332.29 61.42,330.44 60.04,329.15 61.91,328.93" fill="#BE0F2E"/>
<line x1="78.5" y1="266.71999999999997" x2="78.5" y2="289.92999999999995" stroke="#34507F" stroke-width="1" />
<line x1="78.5" y1="321.58" x2="78.5" y2="323.69" stroke="#34507F" stroke-width="1" />
<line x1="75.0" y1="266.71999999999997" x2="82.0" y2="266.71999999999997" stroke="#34507F" stroke-width="1" />
<line x1="75.0" y1="323.69" x2="82.0" y2="323.69" stroke="#34507F" stroke-width="1" />
<rect x="73.0" y="289.92999999999995" width="11" height="31.650000000000034" fill="#97A2C7" />
<line x1="73.0" y1="311.03" x2="84.0" y2="311.03" stroke="#2E5590" stroke-width="0.9" />
<polygon points="78.50,264.32 80.78,268.16 76.22,268.16" fill="#173A72"/>
<polygon points="78.50,293.86 80.78,297.70 76.22,297.70" fill="#173A72"/>
<polygon points="78.50,300.19 80.78,304.03 76.22,304.03" fill="#173A72"/>
<polygon points="78.50,314.96 80.78,318.80 76.22,318.80" fill="#173A72"/>
<polygon points="81.00,319.18 83.28,323.02 78.72,323.02" fill="#173A72"/>
<polygon points="76.00,321.29 78.28,325.13 73.72,325.13" fill="#173A72"/>
<line x1="115.8" y1="230.84999999999997" x2="115.8" y2="256.16999999999996" stroke="#E9A04A" stroke-width="1" />
<line x1="115.8" y1="315.883" x2="115.8" y2="315.25" stroke="#E9A04A" stroke-width="1" />
<line x1="112.3" y1="230.84999999999997" x2="119.3" y2="230.84999999999997" stroke="#E9A04A" stroke-width="1" />
<line x1="112.3" y1="315.25" x2="119.3" y2="315.25" stroke="#E9A04A" stroke-width="1" />
<rect x="110.14999999999999" y="256.16999999999996" width="11.3" height="59.71300000000002" fill="#F8C88C" />
<line x1="110.14999999999999" y1="308.91999999999996" x2="121.45" y2="308.91999999999996" stroke="#EE9A2E" stroke-width="0.9" />
<circle cx="115.80" cy="230.85" r="1.3" fill="#E9941F"/>
<circle cx="115.80" cy="281.49" r="1.3" fill="#E9941F"/>
<circle cx="115.80" cy="308.92" r="1.3" fill="#E9941F"/>
<circle cx="113.50" cy="315.25" r="1.3" fill="#E9941F"/>
<circle cx="118.10" cy="314.19" r="1.3" fill="#E9941F"/>
<line x1="131.4" y1="304.7" x2="131.4" y2="318.41499999999996" stroke="#D0344A" stroke-width="1" />
<line x1="131.4" y1="327.90999999999997" x2="131.4" y2="336.34999999999997" stroke="#D0344A" stroke-width="1" />
<line x1="127.9" y1="304.7" x2="134.9" y2="304.7" stroke="#D0344A" stroke-width="1" />
<line x1="127.9" y1="336.34999999999997" x2="134.9" y2="336.34999999999997" stroke="#D0344A" stroke-width="1" />
<rect x="125.9" y="318.41499999999996" width="11" height="9.495000000000005" fill="#E3978C" />
<line x1="125.9" y1="323.69" x2="136.9" y2="323.69" stroke="#D0344A" stroke-width="0.9" />
<polygon points="131.40,301.90 132.19,303.61 134.06,303.83 132.68,305.12 133.05,306.97 131.40,306.04 129.75,306.97 130.12,305.12 128.74,303.83 130.61,303.61" fill="#BE0F2E"/>
<polygon points="131.40,306.12 132.19,307.83 134.06,308.05 132.68,309.34 133.05,311.19 131.40,310.26 129.75,311.19 130.12,309.34 128.74,308.05 130.61,307.83" fill="#BE0F2E"/>
<polygon points="133.40,310.34 134.19,312.05 136.06,312.27 134.68,313.56 135.05,315.41 133.40,314.48 131.75,315.41 132.12,313.56 130.74,312.27 132.61,312.05" fill="#BE0F2E"/>
<polygon points="129.40,312.45 130.19,314.16 132.06,314.38 130.68,315.67 131.05,317.52 129.40,316.59 127.75,317.52 128.12,315.67 126.74,314.38 128.61,314.16" fill="#BE0F2E"/>
<polygon points="132.90,314.56 133.69,316.27 135.56,316.49 134.18,317.78 134.55,319.63 132.90,318.70 131.25,319.63 131.62,317.78 130.24,316.49 132.11,316.27" fill="#BE0F2E"/>
<polygon points="128.90,316.67 129.69,318.38 131.56,318.60 130.18,319.89 130.55,321.74 128.90,320.81 127.25,321.74 127.62,319.89 126.24,318.60 128.11,318.38" fill="#BE0F2E"/>
<polygon points="134.40,316.67 135.19,318.38 137.06,318.60 135.68,319.89 136.05,321.74 134.40,320.81 132.75,321.74 133.12,319.89 131.74,318.60 133.61,318.38" fill="#BE0F2E"/>
<polygon points="131.40,318.78 132.19,320.49 134.06,320.71 132.68,322.00 133.05,323.85 131.40,322.92 129.75,323.85 130.12,322.00 128.74,320.71 130.61,320.49" fill="#BE0F2E"/>
<polygon points="135.90,318.78 136.69,320.49 138.56,320.71 137.18,322.00 137.55,323.85 135.90,322.92 134.25,323.85 134.62,322.00 133.24,320.71 135.11,320.49" fill="#BE0F2E"/>
<polygon points="127.40,320.89 128.19,322.60 130.06,322.82 128.68,324.11 129.05,325.96 127.40,325.03 125.75,325.96 126.12,324.11 124.74,322.82 126.61,322.60" fill="#BE0F2E"/>
<polygon points="132.40,320.89 133.19,322.60 135.06,322.82 133.68,324.11 134.05,325.96 132.40,325.03 130.75,325.96 131.12,324.11 129.74,322.82 131.61,322.60" fill="#BE0F2E"/>
<polygon points="134.90,323.00 135.69,324.71 137.56,324.93 136.18,326.22 136.55,328.07 134.90,327.14 133.25,328.07 133.62,326.22 132.24,324.93 134.11,324.71" fill="#BE0F2E"/>
<polygon points="129.40,323.00 130.19,324.71 132.06,324.93 130.68,326.22 131.05,328.07 129.40,327.14 127.75,328.07 128.12,326.22 126.74,324.93 128.61,324.71" fill="#BE0F2E"/>
<polygon points="132.40,325.11 133.19,326.82 135.06,327.04 133.68,328.33 134.05,330.18 132.40,329.25 130.75,330.18 131.12,328.33 129.74,327.04 131.61,326.82" fill="#BE0F2E"/>
<polygon points="127.40,325.11 128.19,326.82 130.06,327.04 128.68,328.33 129.05,330.18 127.40,329.25 125.75,330.18 126.12,328.33 124.74,327.04 126.61,326.82" fill="#BE0F2E"/>
<polygon points="129.90,327.22 130.69,328.93 132.56,329.15 131.18,330.44 131.55,332.29 129.90,331.36 128.25,332.29 128.62,330.44 127.24,329.15 129.11,328.93" fill="#BE0F2E"/>
<polygon points="134.40,327.22 135.19,328.93 137.06,329.15 135.68,330.44 136.05,332.29 134.40,331.36 132.75,332.29 133.12,330.44 131.74,329.15 133.61,328.93" fill="#BE0F2E"/>
<polygon points="131.40,329.33 132.19,331.04 134.06,331.26 132.68,332.55 133.05,334.40 131.40,333.47 129.75,334.40 130.12,332.55 128.74,331.26 130.61,331.04" fill="#BE0F2E"/>
<polygon points="129.90,331.44 130.69,333.15 132.56,333.37 131.18,334.66 131.55,336.51 129.90,335.58 128.25,336.51 128.62,334.66 127.24,333.37 129.11,333.15" fill="#BE0F2E"/>
<polygon points="131.40,333.55 132.19,335.26 134.06,335.48 132.68,336.77 133.05,338.62 131.40,337.69 129.75,338.62 130.12,336.77 128.74,335.48 130.61,335.26" fill="#BE0F2E"/>
<line x1="147.8" y1="266.71999999999997" x2="147.8" y2="295.205" stroke="#34507F" stroke-width="1" />
<line x1="147.8" y1="324.11199999999997" x2="147.8" y2="330.65299999999996" stroke="#34507F" stroke-width="1" />
<line x1="144.3" y1="266.71999999999997" x2="151.3" y2="266.71999999999997" stroke="#34507F" stroke-width="1" />
<line x1="144.3" y1="330.65299999999996" x2="151.3" y2="330.65299999999996" stroke="#34507F" stroke-width="1" />
<rect x="142.15" y="295.205" width="11.3" height="28.906999999999982" fill="#97A2C7" />
<line x1="142.15" y1="321.58" x2="153.45000000000002" y2="321.58" stroke="#2E5590" stroke-width="0.9" />
<polygon points="147.80,264.32 150.08,268.16 145.52,268.16" fill="#173A72"/>
<polygon points="147.80,298.08 150.08,301.92 145.52,301.92" fill="#173A72"/>
<polygon points="144.80,317.07 147.08,320.91 142.52,320.91" fill="#173A72"/>
<polygon points="147.80,319.18 150.08,323.02 145.52,323.02" fill="#173A72"/>
<polygon points="150.80,317.07 153.08,320.91 148.52,320.91" fill="#173A72"/>
<polygon points="147.80,328.25 150.08,332.09 145.52,332.09" fill="#173A72"/>
<line x1="185.4" y1="294.572" x2="185.4" y2="298.37" stroke="#E9A04A" stroke-width="1" />
<line x1="185.4" y1="327.488" x2="185.4" y2="330.02" stroke="#E9A04A" stroke-width="1" />
<line x1="181.9" y1="294.572" x2="188.9" y2="294.572" stroke="#E9A04A" stroke-width="1" />
<line x1="181.9" y1="330.02" x2="188.9" y2="330.02" stroke="#E9A04A" stroke-width="1" />
<rect x="180.25" y="298.37" width="10.3" height="29.117999999999995" fill="#F8C88C" />
<line x1="180.25" y1="324.323" x2="190.55" y2="324.323" stroke="#EE9A2E" stroke-width="0.9" />
<circle cx="185.40" cy="294.57" r="1.3" fill="#E9941F"/>
<circle cx="185.40" cy="298.37" r="1.3" fill="#E9941F"/>
<circle cx="183.10" cy="323.69" r="1.3" fill="#E9941F"/>
<circle cx="187.70" cy="323.69" r="1.3" fill="#E9941F"/>
<circle cx="185.40" cy="330.02" r="1.3" fill="#E9941F"/>
<line x1="201.4" y1="321.58" x2="201.4" y2="337.405" stroke="#D0344A" stroke-width="1" />
<line x1="201.4" y1="346.9" x2="201.4" y2="346.9" stroke="#D0344A" stroke-width="1" />
<line x1="197.9" y1="321.58" x2="204.9" y2="321.58" stroke="#D0344A" stroke-width="1" />
<line x1="197.9" y1="346.9" x2="204.9" y2="346.9" stroke="#D0344A" stroke-width="1" />
<rect x="195.75" y="337.405" width="11.3" height="9.495000000000005" fill="#E3978C" />
<line x1="195.75" y1="344.78999999999996" x2="207.05" y2="344.78999999999996" stroke="#D0344A" stroke-width="0.9" />
<polygon points="201.40,318.78 202.19,320.49 204.06,320.71 202.68,322.00 203.05,323.85 201.40,322.92 199.75,323.85 200.12,322.00 198.74,320.71 200.61,320.49" fill="#BE0F2E"/>
<polygon points="201.40,327.22 202.19,328.93 204.06,329.15 202.68,330.44 203.05,332.29 201.40,331.36 199.75,332.29 200.12,330.44 198.74,329.15 200.61,328.93" fill="#BE0F2E"/>
<polygon points="201.40,331.44 202.19,333.15 204.06,333.37 202.68,334.66 203.05,336.51 201.40,335.58 199.75,336.51 200.12,334.66 198.74,333.37 200.61,333.15" fill="#BE0F2E"/>
<polygon points="201.40,337.77 202.19,339.48 204.06,339.70 202.68,340.99 203.05,342.84 201.40,341.91 199.75,342.84 200.12,340.99 198.74,339.70 200.61,339.48" fill="#BE0F2E"/>
<polygon points="197.90,344.10 198.69,345.81 200.56,346.03 199.18,347.32 199.55,349.17 197.90,348.24 196.25,349.17 196.62,347.32 195.24,346.03 197.11,345.81" fill="#BE0F2E"/>
<polygon points="201.40,344.10 202.19,345.81 204.06,346.03 202.68,347.32 203.05,349.17 201.40,348.24 199.75,349.17 200.12,347.32 198.74,346.03 200.61,345.81" fill="#BE0F2E"/>
<polygon points="204.90,344.10 205.69,345.81 207.56,346.03 206.18,347.32 206.55,349.17 204.90,348.24 203.25,349.17 203.62,347.32 202.24,346.03 204.11,345.81" fill="#BE0F2E"/>
<line x1="217.2" y1="323.69" x2="217.2" y2="334.662" stroke="#34507F" stroke-width="1" />
<line x1="217.2" y1="346.9" x2="217.2" y2="346.9" stroke="#34507F" stroke-width="1" />
<line x1="213.7" y1="323.69" x2="220.7" y2="323.69" stroke="#34507F" stroke-width="1" />
<line x1="213.7" y1="346.9" x2="220.7" y2="346.9" stroke="#34507F" stroke-width="1" />
<rect x="211.25" y="334.662" width="11.9" height="12.238" fill="#97A2C7" />
<line x1="211.25" y1="340.57" x2="223.14999999999998" y2="340.57" stroke="#2E5590" stroke-width="0.9" />
<polygon points="217.20,321.29 219.48,325.13 214.92,325.13" fill="#173A72"/>
<polygon points="214.60,333.95 216.88,337.79 212.32,337.79" fill="#173A72"/>
<polygon points="219.80,333.95 222.08,337.79 217.52,337.79" fill="#173A72"/>
<polygon points="217.20,338.17 219.48,342.01 214.92,342.01" fill="#173A72"/>
<polygon points="213.70,344.50 215.98,348.34 211.42,348.34" fill="#173A72"/>
<polygon points="217.20,344.50 219.48,348.34 214.92,348.34" fill="#173A72"/>
<polygon points="220.70,344.50 222.98,348.34 218.42,348.34" fill="#173A72"/>
<circle cx="79.80" cy="384.10" r="1.3" fill="#E9941F"/>
<text x="84.8" y="386.4" font-size="7.1" text-anchor="start" font-weight="normal" fill="#222222" stroke="#222222" stroke-width="0.08" >DL1: 50 mg/kg/day on days +3/+4</text>
<polygon points="79.50,390.60 80.23,392.19 81.97,392.40 80.69,393.59 81.03,395.30 79.50,394.45 77.97,395.30 78.31,393.59 77.03,392.40 78.77,392.19" fill="#BE0F2E"/>
<text x="84.8" y="395.59999999999997" font-size="7.1" text-anchor="start" font-weight="normal" fill="#222222" stroke="#222222" stroke-width="0.08" >DL2: 25 mg/kg/day on days +3/+4</text>
<polygon points="79.30,400.30 81.67,404.30 76.92,404.30" fill="#173A72"/>
<text x="84.8" y="404.79999999999995" font-size="7.1" text-anchor="start" font-weight="normal" fill="#222222" stroke="#222222" stroke-width="0.08" >DL3: 25 mg/kg on day +4</text>
<text x="377.3" y="203.1" font-size="8.6" text-anchor="middle" font-weight="normal" fill="#222222" stroke="#222222" stroke-width="0.08" >Donor Chimerism</text>
<line x1="272.8" y1="219.6" x2="272.8" y2="347.7" stroke="#333333" stroke-width="1.5" />
<line x1="269.8" y1="332.5" x2="272.8" y2="332.5" stroke="#333333" stroke-width="1.1" />
<text x="267.40000000000003" y="335.0" font-size="7.4" text-anchor="end" font-weight="normal" fill="#222222" stroke="#222222" stroke-width="0.08" >0</text>
<line x1="269.8" y1="322.2" x2="272.8" y2="322.2" stroke="#333333" stroke-width="1.1" />
<text x="267.40000000000003" y="324.7" font-size="7.4" text-anchor="end" font-weight="normal" fill="#222222" stroke="#222222" stroke-width="0.08" >10</text>
<line x1="269.8" y1="311.9" x2="272.8" y2="311.9" stroke="#333333" stroke-width="1.1" />
<text x="267.40000000000003" y="314.4" font-size="7.4" text-anchor="end" font-weight="normal" fill="#222222" stroke="#222222" stroke-width="0.08" >20</text>
<line x1="269.8" y1="301.6" x2="272.8" y2="301.6" stroke="#333333" stroke-width="1.1" />
<text x="267.40000000000003" y="304.1" font-size="7.4" text-anchor="end" font-weight="normal" fill="#222222" stroke="#222222" stroke-width="0.08" >30</text>
<line x1="269.8" y1="291.3" x2="272.8" y2="291.3" stroke="#333333" stroke-width="1.1" />
<text x="267.40000000000003" y="293.8" font-size="7.4" text-anchor="end" font-weight="normal" fill="#222222" stroke="#222222" stroke-width="0.08" >40</text>
<line x1="269.8" y1="281.0" x2="272.8" y2="281.0" stroke="#333333" stroke-width="1.1" />
<text x="267.40000000000003" y="283.5" font-size="7.4" text-anchor="end" font-weight="normal" fill="#222222" stroke="#222222" stroke-width="0.08" >50</text>
<line x1="269.8" y1="270.7" x2="272.8" y2="270.7" stroke="#333333" stroke-width="1.1" />
<text x="267.40000000000003" y="273.2" font-size="7.4" text-anchor="end" font-weight="normal" fill="#222222" stroke="#222222" stroke-width="0.08" >60</text>
<line x1="269.8" y1="260.4" x2="272.8" y2="260.4" stroke="#333333" stroke-width="1.1" />
<text x="267.40000000000003" y="262.9" font-size="7.4" text-anchor="end" font-weight="normal" fill="#222222" stroke="#222222" stroke-width="0.08" >70</text>
<line x1="269.8" y1="250.1" x2="272.8" y2="250.1" stroke="#333333" stroke-width="1.1" />
<text x="267.40000000000003" y="252.6" font-size="7.4" text-anchor="end" font-weight="normal" fill="#222222" stroke="#222222" stroke-width="0.08" >80</text>
<line x1="269.8" y1="239.8" x2="272.8" y2="239.8" stroke="#333333" stroke-width="1.1" />
<text x="267.40000000000003" y="242.3" font-size="7.4" text-anchor="end" font-weight="normal" fill="#222222" stroke="#222222" stroke-width="0.08" >90</text>
<line x1="269.8" y1="229.5" x2="272.8" y2="229.5" stroke="#333333" stroke-width="1.1" />
<text x="267.40000000000003" y="232.0" font-size="7.4" text-anchor="end" font-weight="normal" fill="#222222" stroke="#222222" stroke-width="0.08" >100</text>
<line x1="270.3" y1="342.6" x2="272.8" y2="342.6" stroke="#333333" stroke-width="1" />
<text x="267.6" y="345.3" font-size="7.4" text-anchor="end" font-weight="normal" fill="#222222" stroke="#222222" stroke-width="0.08" >NR</text>
<line x1="272.1" y1="347.2" x2="373" y2="347.2" stroke="#333333" stroke-width="1.5" />
<line x1="273" y1="332.5" x2="373" y2="332.5" stroke="#444" stroke-width="1" stroke-dasharray="1,1"/>
<line x1="281.5" y1="347.2" x2="281.5" y2="349.4" stroke="#333333" stroke-width="1" />
<text x="281.5" y="360" font-size="7.4" text-anchor="middle" font-weight="normal" fill="#222222" stroke="#222222" stroke-width="0.08" >28</text>
<line x1="298" y1="347.2" x2="298" y2="349.4" stroke="#333333" stroke-width="1" />
<text x="298" y="360" font-size="7.4" text-anchor="middle" font-weight="normal" fill="#222222" stroke="#222222" stroke-width="0.08" >60</text>
<line x1="314.5" y1="347.2" x2="314.5" y2="349.4" stroke="#333333" stroke-width="1" />
<text x="314.5" y="360" font-size="7.4" text-anchor="middle" font-weight="normal" fill="#222222" stroke="#222222" stroke-width="0.08" >100</text>
<line x1="331" y1="347.2" x2="331" y2="349.4" stroke="#333333" stroke-width="1" />
<text x="331" y="360" font-size="7.4" text-anchor="middle" font-weight="normal" fill="#222222" stroke="#222222" stroke-width="0.08" >180</text>
<line x1="347.5" y1="347.2" x2="347.5" y2="349.4" stroke="#333333" stroke-width="1" />
<text x="347.5" y="360" font-size="7.4" text-anchor="middle" font-weight="normal" fill="#222222" stroke="#222222" stroke-width="0.08" >270</text>
<line x1="364" y1="347.2" x2="364" y2="349.4" stroke="#333333" stroke-width="1" />
<text x="364" y="360" font-size="7.4" text-anchor="middle" font-weight="normal" fill="#222222" stroke="#222222" stroke-width="0.08" >365</text>
<text x="323.2" y="371.7" font-size="8.3" text-anchor="middle" font-weight="normal" fill="#222222" stroke="#222222" textLength="38.3" lengthAdjust="spacingAndGlyphs" stroke-width="0.15">Day post-HCT</text>
<g transform="translate(248.70000000000002 277.35) rotate(-90) scale(0.6098 1)"><text x="-53.55" y="0" fill="#222222" stroke="#222222" stroke-width="0.25"><tspan font-size="8.6" dy="0">CD33</tspan><tspan font-size="5.8" dy="-3.2">+</tspan><tspan font-size="8.6" dy="3.2"> chimerism (% donor)</tspan></text></g>
<text x="322.7" y="214.9" font-size="7.3" text-anchor="middle" font-weight="normal" fill="#222222" stroke="#222222" stroke-width="0.08" >Myeloid</text>
<line x1="414" y1="219.6" x2="414" y2="347.7" stroke="#333333" stroke-width="1.5" />
<line x1="411" y1="332.5" x2="414" y2="332.5" stroke="#333333" stroke-width="1.1" />
<text x="408.6" y="335.0" font-size="7.4" text-anchor="end" font-weight="normal" fill="#222222" stroke="#222222" stroke-width="0.08" >0</text>
<line x1="411" y1="322.2" x2="414" y2="322.2" stroke="#333333" stroke-width="1.1" />
<text x="408.6" y="324.7" font-size="7.4" text-anchor="end" font-weight="normal" fill="#222222" stroke="#222222" stroke-width="0.08" >10</text>
<line x1="411" y1="311.9" x2="414" y2="311.9" stroke="#333333" stroke-width="1.1" />
<text x="408.6" y="314.4" font-size="7.4" text-anchor="end" font-weight="normal" fill="#222222" stroke="#222222" stroke-width="0.08" >20</text>
<line x1="411" y1="301.6" x2="414" y2="301.6" stroke="#333333" stroke-width="1.1" />
<text x="408.6" y="304.1" font-size="7.4" text-anchor="end" font-weight="normal" fill="#222222" stroke="#222222" stroke-width="0.08" >30</text>
<line x1="411" y1="291.3" x2="414" y2="291.3" stroke="#333333" stroke-width="1.1" />
<text x="408.6" y="293.8" font-size="7.4" text-anchor="end" font-weight="normal" fill="#222222" stroke="#222222" stroke-width="0.08" >40</text>
<line x1="411" y1="281.0" x2="414" y2="281.0" stroke="#333333" stroke-width="1.1" />
<text x="408.6" y="283.5" font-size="7.4" text-anchor="end" font-weight="normal" fill="#222222" stroke="#222222" stroke-width="0.08" >50</text>
<line x1="411" y1="270.7" x2="414" y2="270.7" stroke="#333333" stroke-width="1.1" />
<text x="408.6" y="273.2" font-size="7.4" text-anchor="end" font-weight="normal" fill="#222222" stroke="#222222" stroke-width="0.08" >60</text>
<line x1="411" y1="260.4" x2="414" y2="260.4" stroke="#333333" stroke-width="1.1" />
<text x="408.6" y="262.9" font-size="7.4" text-anchor="end" font-weight="normal" fill="#222222" stroke="#222222" stroke-width="0.08" >70</text>
<line x1="411" y1="250.1" x2="414" y2="250.1" stroke="#333333" stroke-width="1.1" />
<text x="408.6" y="252.6" font-size="7.4" text-anchor="end" font-weight="normal" fill="#222222" stroke="#222222" stroke-width="0.08" >80</text>
<line x1="411" y1="239.8" x2="414" y2="239.8" stroke="#333333" stroke-width="1.1" />
<text x="408.6" y="242.3" font-size="7.4" text-anchor="end" font-weight="normal" fill="#222222" stroke="#222222" stroke-width="0.08" >90</text>
<line x1="411" y1="229.5" x2="414" y2="229.5" stroke="#333333" stroke-width="1.1" />
<text x="408.6" y="232.0" font-size="7.4" text-anchor="end" font-weight="normal" fill="#222222" stroke="#222222" stroke-width="0.08" >100</text>
<line x1="411.5" y1="342.6" x2="414" y2="342.6" stroke="#333333" stroke-width="1" />
<text x="408.8" y="345.3" font-size="7.4" text-anchor="end" font-weight="normal" fill="#222222" stroke="#222222" stroke-width="0.08" >NR</text>
<line x1="413.3" y1="347.2" x2="513" y2="347.2" stroke="#333333" stroke-width="1.5" />
<line x1="415" y1="332.5" x2="513" y2="332.5" stroke="#444" stroke-width="1" stroke-dasharray="1,1"/>
<line x1="422" y1="347.2" x2="422" y2="349.4" stroke="#333333" stroke-width="1" />
<text x="422" y="360" font-size="7.4" text-anchor="middle" font-weight="normal" fill="#222222" stroke="#222222" stroke-width="0.08" >28</text>
<line x1="438.7" y1="347.2" x2="438.7" y2="349.4" stroke="#333333" stroke-width="1" />
<text x="438.7" y="360" font-size="7.4" text-anchor="middle" font-weight="normal" fill="#222222" stroke="#222222" stroke-width="0.08" >60</text>
<line x1="455.4" y1="347.2" x2="455.4" y2="349.4" stroke="#333333" stroke-width="1" />
<text x="455.4" y="360" font-size="7.4" text-anchor="middle" font-weight="normal" fill="#222222" stroke="#222222" stroke-width="0.08" >100</text>
<line x1="472" y1="347.2" x2="472" y2="349.4" stroke="#333333" stroke-width="1" />
<text x="472" y="360" font-size="7.4" text-anchor="middle" font-weight="normal" fill="#222222" stroke="#222222" stroke-width="0.08" >180</text>
<line x1="488.8" y1="347.2" x2="488.8" y2="349.4" stroke="#333333" stroke-width="1" />
<text x="488.8" y="360" font-size="7.4" text-anchor="middle" font-weight="normal" fill="#222222" stroke="#222222" stroke-width="0.08" >270</text>
<line x1="505.5" y1="347.2" x2="505.5" y2="349.4" stroke="#333333" stroke-width="1" />
<text x="505.5" y="360" font-size="7.4" text-anchor="middle" font-weight="normal" fill="#222222" stroke="#222222" stroke-width="0.08" >365</text>
<text x="463.8" y="371.7" font-size="8.3" text-anchor="middle" font-weight="normal" fill="#222222" stroke="#222222" textLength="38.3" lengthAdjust="spacingAndGlyphs" stroke-width="0.15">Day post-HCT</text>
<g transform="translate(389.9 277.35) rotate(-90) scale(0.6383 1)"><text x="-51.15" y="0" fill="#222222" stroke="#222222" stroke-width="0.25"><tspan font-size="8.6" dy="0">CD3</tspan><tspan font-size="5.8" dy="-3.2">+</tspan><tspan font-size="8.6" dy="3.2"> chimerism (% donor)</tspan></text></g>
<text x="463.9" y="214.9" font-size="7.3" text-anchor="middle" font-weight="normal" fill="#222222" stroke="#222222" stroke-width="0.08" >T-Cell</text>
<rect x="275.05" y="225.5" width="12.5" height="2.2" fill="#EE8A1E" />
<rect x="276.3" y="227.5" width="10.0" height="1.0" fill="#F5B042" />
<circle cx="276.30" cy="228.00" r="1.0" fill="#F5B042"/>
<circle cx="278.30" cy="228.00" r="1.0" fill="#F5B042"/>
<circle cx="280.30" cy="228.00" r="1.0" fill="#F5B042"/>
<circle cx="282.30" cy="228.00" r="1.0" fill="#F5B042"/>
<circle cx="284.30" cy="228.00" r="1.0" fill="#F5B042"/>
<circle cx="286.30" cy="228.00" r="1.0" fill="#F5B042"/>
<rect x="275.05" y="223.1" width="12.5" height="2.5" fill="#BE0F2E" />
<polygon points="275.65,222.70 276.10,223.68 277.17,223.81 276.38,224.54 276.59,225.59 275.65,225.07 274.71,225.59 274.92,224.54 274.13,223.81 275.20,223.68" fill="#BE0F2E"/>
<polygon points="286.95,222.70 287.40,223.68 288.47,223.81 287.68,224.54 287.89,225.59 286.95,225.07 286.01,225.59 286.22,224.54 285.43,223.81 286.50,223.68" fill="#BE0F2E"/>
<polygon points="275.30,220.80 276.80,223.40 273.80,223.40" fill="#173A72"/>
<polygon points="277.70,220.80 279.20,223.40 276.20,223.40" fill="#173A72"/>
<polygon points="280.10,220.80 281.60,223.40 278.60,223.40" fill="#173A72"/>
<polygon points="282.50,220.80 284.00,223.40 281.00,223.40" fill="#173A72"/>
<polygon points="284.90,220.80 286.40,223.40 283.40,223.40" fill="#173A72"/>
<polygon points="287.30,220.80 288.80,223.40 285.80,223.40" fill="#173A72"/>
<rect x="274.3" y="222.5" width="14.0" height="1.0" fill="#173A72" />
<rect x="292.45" y="225.5" width="10.5" height="2.2" fill="#EE8A1E" />
<rect x="293.5" y="227.5" width="8.4" height="1.0" fill="#F5B042" />
<circle cx="293.50" cy="228.00" r="1.0" fill="#F5B042"/>
<circle cx="295.60" cy="228.00" r="1.0" fill="#F5B042"/>
<circle cx="297.70" cy="228.00" r="1.0" fill="#F5B042"/>
<circle cx="299.80" cy="228.00" r="1.0" fill="#F5B042"/>
<circle cx="301.90" cy="228.00" r="1.0" fill="#F5B042"/>
<rect x="291.55" y="223.1" width="12.3" height="2.5" fill="#BE0F2E" />
<polygon points="292.15,222.70 292.60,223.68 293.67,223.81 292.88,224.54 293.09,225.59 292.15,225.07 291.21,225.59 291.42,224.54 290.63,223.81 291.70,223.68" fill="#BE0F2E"/>
<polygon points="303.25,222.70 303.70,223.68 304.77,223.81 303.98,224.54 304.19,225.59 303.25,225.07 302.31,225.59 302.52,224.54 301.73,223.81 302.80,223.68" fill="#BE0F2E"/>
<polygon points="294.10,220.80 295.60,223.40 292.60,223.40" fill="#173A72"/>
<polygon points="296.50,220.80 298.00,223.40 295.00,223.40" fill="#173A72"/>
<polygon points="298.90,220.80 300.40,223.40 297.40,223.40" fill="#173A72"/>
<polygon points="301.30,220.80 302.80,223.40 299.80,223.40" fill="#173A72"/>
<rect x="293.09999999999997" y="222.5" width="9.2" height="1.0" fill="#173A72" />
<rect x="309.2" y="225.5" width="11" height="2.2" fill="#EE8A1E" />
<rect x="310.3" y="227.5" width="8.8" height="1.0" fill="#F5B042" />
<circle cx="310.30" cy="228.00" r="1.0" fill="#F5B042"/>
<circle cx="312.50" cy="228.00" r="1.0" fill="#F5B042"/>
<circle cx="314.70" cy="228.00" r="1.0" fill="#F5B042"/>
<circle cx="316.90" cy="228.00" r="1.0" fill="#F5B042"/>
<circle cx="319.10" cy="228.00" r="1.0" fill="#F5B042"/>
<rect x="308.2" y="223.1" width="13" height="2.5" fill="#BE0F2E" />
<polygon points="308.80,222.70 309.25,223.68 310.32,223.81 309.53,224.54 309.74,225.59 308.80,225.07 307.86,225.59 308.07,224.54 307.28,223.81 308.35,223.68" fill="#BE0F2E"/>
<polygon points="320.60,222.70 321.05,223.68 322.12,223.81 321.33,224.54 321.54,225.59 320.60,225.07 319.66,225.59 319.87,224.54 319.08,223.81 320.15,223.68" fill="#BE0F2E"/>
<polygon points="309.90,220.80 311.40,223.40 308.40,223.40" fill="#173A72"/>
<polygon points="312.30,220.80 313.80,223.40 310.80,223.40" fill="#173A72"/>
<polygon points="314.70,220.80 316.20,223.40 313.20,223.40" fill="#173A72"/>
<polygon points="317.10,220.80 318.60,223.40 315.60,223.40" fill="#173A72"/>
<polygon points="319.50,220.80 321.00,223.40 318.00,223.40" fill="#173A72"/>
<rect x="308.9" y="222.5" width="11.6" height="1.0" fill="#173A72" />
<rect x="326.85" y="225.5" width="9.5" height="2.2" fill="#EE8A1E" />
<rect x="327.8" y="227.5" width="7.6000000000000005" height="1.0" fill="#F5B042" />
<circle cx="327.80" cy="228.00" r="1.0" fill="#F5B042"/>
<circle cx="329.70" cy="228.00" r="1.0" fill="#F5B042"/>
<circle cx="331.60" cy="228.00" r="1.0" fill="#F5B042"/>
<circle cx="333.50" cy="228.00" r="1.0" fill="#F5B042"/>
<circle cx="335.40" cy="228.00" r="1.0" fill="#F5B042"/>
<rect x="325.35" y="223.1" width="12.5" height="2.5" fill="#BE0F2E" />
<polygon points="325.95,222.70 326.40,223.68 327.47,223.81 326.68,224.54 326.89,225.59 325.95,225.07 325.01,225.59 325.22,224.54 324.43,223.81 325.50,223.68" fill="#BE0F2E"/>
<polygon points="337.25,222.70 337.70,223.68 338.77,223.81 337.98,224.54 338.19,225.59 337.25,225.07 336.31,225.59 336.52,224.54 335.73,223.81 336.80,223.68" fill="#BE0F2E"/>
<polygon points="328.00,220.80 329.50,223.40 326.50,223.40" fill="#173A72"/>
<polygon points="330.40,220.80 331.90,223.40 328.90,223.40" fill="#173A72"/>
<polygon points="332.80,220.80 334.30,223.40 331.30,223.40" fill="#173A72"/>
<polygon points="335.20,220.80 336.70,223.40 333.70,223.40" fill="#173A72"/>
<rect x="327.0" y="222.5" width="9.2" height="1.0" fill="#173A72" />
<rect x="343.8" y="225.5" width="9" height="2.2" fill="#EE8A1E" />
<rect x="344.7" y="227.5" width="7.2" height="1.0" fill="#F5B042" />
<circle cx="344.70" cy="228.00" r="1.0" fill="#F5B042"/>
<circle cx="346.50" cy="228.00" r="1.0" fill="#F5B042"/>
<circle cx="348.30" cy="228.00" r="1.0" fill="#F5B042"/>
<circle cx="350.10" cy="228.00" r="1.0" fill="#F5B042"/>
<circle cx="351.90" cy="228.00" r="1.0" fill="#F5B042"/>
<rect x="342.55" y="223.1" width="11.5" height="2.5" fill="#BE0F2E" />
<polygon points="343.15,222.70 343.60,223.68 344.67,223.81 343.88,224.54 344.09,225.59 343.15,225.07 342.21,225.59 342.42,224.54 341.63,223.81 342.70,223.68" fill="#BE0F2E"/>
<polygon points="353.45,222.70 353.90,223.68 354.97,223.81 354.18,224.54 354.39,225.59 353.45,225.07 352.51,225.59 352.72,224.54 351.93,223.81 353.00,223.68" fill="#BE0F2E"/>
<polygon points="344.70,220.80 346.20,223.40 343.20,223.40" fill="#173A72"/>
<polygon points="347.10,220.80 348.60,223.40 345.60,223.40" fill="#173A72"/>
<polygon points="349.50,220.80 351.00,223.40 348.00,223.40" fill="#173A72"/>
<polygon points="351.90,220.80 353.40,223.40 350.40,223.40" fill="#173A72"/>
<rect x="343.7" y="222.5" width="9.2" height="1.0" fill="#173A72" />
<rect x="360.8" y="225.5" width="8" height="2.2" fill="#EE8A1E" />
<rect x="361.6" y="227.5" width="6.4" height="1.0" fill="#F5B042" />
<circle cx="361.60" cy="228.00" r="1.0" fill="#F5B042"/>
<circle cx="363.73" cy="228.00" r="1.0" fill="#F5B042"/>
<circle cx="365.87" cy="228.00" r="1.0" fill="#F5B042"/>
<circle cx="368.00" cy="228.00" r="1.0" fill="#F5B042"/>
<rect x="359.3" y="223.1" width="11" height="2.5" fill="#BE0F2E" />
<polygon points="359.90,222.70 360.35,223.68 361.42,223.81 360.63,224.54 360.84,225.59 359.90,225.07 358.96,225.59 359.17,224.54 358.38,223.81 359.45,223.68" fill="#BE0F2E"/>
<polygon points="369.70,222.70 370.15,223.68 371.22,223.81 370.43,224.54 370.64,225.59 369.70,225.07 368.76,225.59 368.97,224.54 368.18,223.81 369.25,223.68" fill="#BE0F2E"/>
<polygon points="362.40,220.80 363.90,223.40 360.90,223.40" fill="#173A72"/>
<polygon points="364.80,220.80 366.30,223.40 363.30,223.40" fill="#173A72"/>
<polygon points="367.20,220.80 368.70,223.40 365.70,223.40" fill="#173A72"/>
<rect x="361.40000000000003" y="222.5" width="6.8" height="1.0" fill="#173A72" />
<circle cx="279.30" cy="230.40" r="1.1" fill="#BE0F2E"/>
<circle cx="282.00" cy="230.40" r="1.1" fill="#BE0F2E"/>
<circle cx="294.30" cy="230.40" r="1.3" fill="#E9941F"/>
<polygon points="301.20,228.50 303.00,231.54 299.39,231.54" fill="#173A72"/>
<polygon points="314.80,324.80 316.61,327.84 313.00,327.84" fill="#173A72"/>
<polygon points="281.50,339.50 283.31,342.54 279.69,342.54" fill="#173A72"/>
<polygon points="279.40,343.30 279.77,344.10 280.64,344.20 279.99,344.79 280.16,345.65 279.40,345.22 278.64,345.65 278.81,344.79 278.16,344.20 279.03,344.10" fill="#BE0F2E"/>
<polygon points="283.20,343.30 283.57,344.10 284.44,344.20 283.79,344.79 283.96,345.65 283.20,345.22 282.44,345.65 282.61,344.79 281.96,344.20 282.83,344.10" fill="#BE0F2E"/>
<rect x="416.2" y="223.1" width="12.2" height="2.5" fill="#BE0F2E" />
<polygon points="416.80,222.70 417.25,223.68 418.32,223.81 417.53,224.54 417.74,225.59 416.80,225.07 415.86,225.59 416.07,224.54 415.28,223.81 416.35,223.68" fill="#BE0F2E"/>
<polygon points="427.80,222.70 428.25,223.68 429.32,223.81 428.53,224.54 428.74,225.59 427.80,225.07 426.86,225.59 427.07,224.54 426.28,223.81 427.35,223.68" fill="#BE0F2E"/>
<polygon points="420.95,220.80 422.45,223.40 419.45,223.40" fill="#173A72"/>
<polygon points="423.65,220.80 425.15,223.40 422.15,223.40" fill="#173A72"/>
<rect x="419.95" y="222.5" width="4.7" height="1.0" fill="#173A72" />
<rect x="433.3" y="225.5" width="11" height="2.2" fill="#EE8A1E" />
<rect x="434.40000000000003" y="227.5" width="8.8" height="1.0" fill="#F5B042" />
<circle cx="434.40" cy="228.00" r="1.0" fill="#F5B042"/>
<circle cx="436.60" cy="228.00" r="1.0" fill="#F5B042"/>
<circle cx="438.80" cy="228.00" r="1.0" fill="#F5B042"/>
<circle cx="441.00" cy="228.00" r="1.0" fill="#F5B042"/>
<circle cx="443.20" cy="228.00" r="1.0" fill="#F5B042"/>
<rect x="432.15000000000003" y="223.1" width="13.3" height="2.5" fill="#BE0F2E" />
<polygon points="432.75,222.70 433.20,223.68 434.27,223.81 433.48,224.54 433.69,225.59 432.75,225.07 431.81,225.59 432.02,224.54 431.23,223.81 432.30,223.68" fill="#BE0F2E"/>
<polygon points="444.85,222.70 445.30,223.68 446.37,223.81 445.58,224.54 445.79,225.59 444.85,225.07 443.91,225.59 444.12,224.54 443.33,223.81 444.40,223.68" fill="#BE0F2E"/>
<polygon points="435.20,220.80 436.70,223.40 433.70,223.40" fill="#173A72"/>
<polygon points="437.60,220.80 439.10,223.40 436.10,223.40" fill="#173A72"/>
<polygon points="440.00,220.80 441.50,223.40 438.50,223.40" fill="#173A72"/>
<polygon points="442.40,220.80 443.90,223.40 440.90,223.40" fill="#173A72"/>
<rect x="434.2" y="222.5" width="9.2" height="1.0" fill="#173A72" />
<rect x="450.15" y="225.5" width="10.5" height="2.2" fill="#EE8A1E" />
<rect x="451.2" y="227.5" width="8.4" height="1.0" fill="#F5B042" />
<circle cx="451.20" cy="228.00" r="1.0" fill="#F5B042"/>
<circle cx="453.30" cy="228.00" r="1.0" fill="#F5B042"/>
<circle cx="455.40" cy="228.00" r="1.0" fill="#F5B042"/>
<circle cx="457.50" cy="228.00" r="1.0" fill="#F5B042"/>
<circle cx="459.60" cy="228.00" r="1.0" fill="#F5B042"/>
<rect x="448.15" y="223.1" width="14.5" height="2.5" fill="#BE0F2E" />
<polygon points="448.75,222.70 449.20,223.68 450.27,223.81 449.48,224.54 449.69,225.59 448.75,225.07 447.81,225.59 448.02,224.54 447.23,223.81 448.30,223.68" fill="#BE0F2E"/>
<polygon points="462.05,222.70 462.50,223.68 463.57,223.81 462.78,224.54 462.99,225.59 462.05,225.07 461.11,225.59 461.32,224.54 460.53,223.81 461.60,223.68" fill="#BE0F2E"/>
<polygon points="450.60,220.80 452.10,223.40 449.10,223.40" fill="#173A72"/>
<polygon points="453.00,220.80 454.50,223.40 451.50,223.40" fill="#173A72"/>
<polygon points="455.40,220.80 456.90,223.40 453.90,223.40" fill="#173A72"/>
<polygon points="457.80,220.80 459.30,223.40 456.30,223.40" fill="#173A72"/>
<polygon points="460.20,220.80 461.70,223.40 458.70,223.40" fill="#173A72"/>
<rect x="449.59999999999997" y="222.5" width="11.6" height="1.0" fill="#173A72" />
<rect x="467.25" y="225.5" width="9.5" height="2.2" fill="#EE8A1E" />
<rect x="468.2" y="227.5" width="7.6000000000000005" height="1.0" fill="#F5B042" />
<circle cx="468.20" cy="228.00" r="1.0" fill="#F5B042"/>
<circle cx="470.10" cy="228.00" r="1.0" fill="#F5B042"/>
<circle cx="472.00" cy="228.00" r="1.0" fill="#F5B042"/>
<circle cx="473.90" cy="228.00" r="1.0" fill="#F5B042"/>
<circle cx="475.80" cy="228.00" r="1.0" fill="#F5B042"/>
<rect x="465.25" y="223.1" width="13.5" height="2.5" fill="#BE0F2E" />
<polygon points="465.85,222.70 466.30,223.68 467.37,223.81 466.58,224.54 466.79,225.59 465.85,225.07 464.91,225.59 465.12,224.54 464.33,223.81 465.40,223.68" fill="#BE0F2E"/>
<polygon points="478.15,222.70 478.60,223.68 479.67,223.81 478.88,224.54 479.09,225.59 478.15,225.07 477.21,225.59 477.42,224.54 476.63,223.81 477.70,223.68" fill="#BE0F2E"/>
<polygon points="469.60,220.80 471.10,223.40 468.10,223.40" fill="#173A72"/>
<polygon points="472.00,220.80 473.50,223.40 470.50,223.40" fill="#173A72"/>
<polygon points="474.40,220.80 475.90,223.40 472.90,223.40" fill="#173A72"/>
<rect x="468.6" y="222.5" width="6.8" height="1.0" fill="#173A72" />
<rect x="484.55" y="225.5" width="8.5" height="2.2" fill="#EE8A1E" />
<rect x="485.40000000000003" y="227.5" width="6.800000000000001" height="1.0" fill="#F5B042" />
<circle cx="485.40" cy="228.00" r="1.0" fill="#F5B042"/>
<circle cx="487.67" cy="228.00" r="1.0" fill="#F5B042"/>
<circle cx="489.93" cy="228.00" r="1.0" fill="#F5B042"/>
<circle cx="492.20" cy="228.00" r="1.0" fill="#F5B042"/>
<rect x="483.3" y="223.1" width="11" height="2.5" fill="#BE0F2E" />
<polygon points="483.90,222.70 484.35,223.68 485.42,223.81 484.63,224.54 484.84,225.59 483.90,225.07 482.96,225.59 483.17,224.54 482.38,223.81 483.45,223.68" fill="#BE0F2E"/>
<polygon points="493.70,222.70 494.15,223.68 495.22,223.81 494.43,224.54 494.64,225.59 493.70,225.07 492.76,225.59 492.97,224.54 492.18,223.81 493.25,223.68" fill="#BE0F2E"/>
<polygon points="486.40,220.80 487.90,223.40 484.90,223.40" fill="#173A72"/>
<polygon points="488.80,220.80 490.30,223.40 487.30,223.40" fill="#173A72"/>
<polygon points="491.20,220.80 492.70,223.40 489.70,223.40" fill="#173A72"/>
<rect x="485.40000000000003" y="222.5" width="6.8" height="1.0" fill="#173A72" />
<rect x="501.25" y="225.5" width="8.5" height="2.2" fill="#EE8A1E" />
<rect x="502.1" y="227.5" width="6.800000000000001" height="1.0" fill="#F5B042" />
<circle cx="502.10" cy="228.00" r="1.0" fill="#F5B042"/>
<circle cx="504.37" cy="228.00" r="1.0" fill="#F5B042"/>
<circle cx="506.63" cy="228.00" r="1.0" fill="#F5B042"/>
<circle cx="508.90" cy="228.00" r="1.0" fill="#F5B042"/>
<rect x="499.75" y="223.1" width="11.5" height="2.5" fill="#BE0F2E" />
<polygon points="500.35,222.70 500.80,223.68 501.87,223.81 501.08,224.54 501.29,225.59 500.35,225.07 499.41,225.59 499.62,224.54 498.83,223.81 499.90,223.68" fill="#BE0F2E"/>
<polygon points="510.65,222.70 511.10,223.68 512.17,223.81 511.38,224.54 511.59,225.59 510.65,225.07 509.71,225.59 509.92,224.54 509.13,223.81 510.20,223.68" fill="#BE0F2E"/>
<polygon points="503.10,220.80 504.60,223.40 501.60,223.40" fill="#173A72"/>
<polygon points="505.50,220.80 507.00,223.40 504.00,223.40" fill="#173A72"/>
<polygon points="507.90,220.80 509.40,223.40 506.40,223.40" fill="#173A72"/>
<rect x="502.1" y="222.5" width="6.8" height="1.0" fill="#173A72" />
<circle cx="419.80" cy="230.00" r="1.3" fill="#E8905A"/>
<circle cx="424.00" cy="230.00" r="1.3" fill="#E8905A"/>
<circle cx="422.00" cy="232.30" r="1.1" fill="#8E2424"/>
<circle cx="422.00" cy="236.10" r="1.4" fill="#EC9A60"/>
<circle cx="443.90" cy="230.40" r="1.1" fill="#8b2a2a"/>
<circle cx="438.50" cy="235.60" r="1.1" fill="#8b2a2a"/>
<rect x="416.15" y="342.9" width="12.5" height="2.2" fill="#EE8A1E" />
<rect x="417.4" y="344.9" width="10.0" height="1.0" fill="#F5B042" />
<circle cx="417.40" cy="345.40" r="1.0" fill="#F5B042"/>
<circle cx="419.40" cy="345.40" r="1.0" fill="#F5B042"/>
<circle cx="421.40" cy="345.40" r="1.0" fill="#F5B042"/>
<circle cx="423.40" cy="345.40" r="1.0" fill="#F5B042"/>
<circle cx="425.40" cy="345.40" r="1.0" fill="#F5B042"/>
<circle cx="427.40" cy="345.40" r="1.0" fill="#F5B042"/>
<rect x="415.9" y="340.5" width="13" height="2.5" fill="#BE0F2E" />
<polygon points="416.50,340.10 416.95,341.08 418.02,341.21 417.23,341.94 417.44,342.99 416.50,342.47 415.56,342.99 415.77,341.94 414.98,341.21 416.05,341.08" fill="#BE0F2E"/>
<polygon points="428.30,340.10 428.75,341.08 429.82,341.21 429.03,341.94 429.24,342.99 428.30,342.47 427.36,342.99 427.57,341.94 426.78,341.21 427.85,341.08" fill="#BE0F2E"/>
<polygon points="417.60,338.20 419.10,340.80 416.10,340.80" fill="#173A72"/>
<polygon points="420.00,338.20 421.50,340.80 418.50,340.80" fill="#173A72"/>
<polygon points="422.40,338.20 423.90,340.80 420.90,340.80" fill="#173A72"/>
<polygon points="424.80,338.20 426.30,340.80 423.30,340.80" fill="#173A72"/>
<polygon points="427.20,338.20 428.70,340.80 425.70,340.80" fill="#173A72"/>
<rect x="416.59999999999997" y="339.9" width="11.6" height="1.0" fill="#173A72" />
<polygon points="422.10,325.00 423.91,328.04 420.30,328.04" fill="#173A72"/>
<circle cx="422.10" cy="332.70" r="1.0" fill="#BE0F2E"/>
<circle cx="436.50" cy="328.70" r="1.05" fill="#BE0F2E"/>
<circle cx="440.60" cy="328.70" r="1.05" fill="#BE0F2E"/>
<circle cx="434.80" cy="332.70" r="1.05" fill="#BE0F2E"/>
<circle cx="442.90" cy="332.70" r="1.05" fill="#BE0F2E"/>
<circle cx="438.80" cy="331.50" r="1.05" fill="#BE0F2E"/>
<circle cx="452.10" cy="332.70" r="1.05" fill="#BE0F2E"/>
<circle cx="455.60" cy="330.60" r="1.05" fill="#BE0F2E"/>
<circle cx="455.60" cy="345.10" r="1.05" fill="#BE0F2E"/>
<circle cx="455.50" cy="311.80" r="1.05" fill="#BE0F2E"/>
<circle cx="470.30" cy="314.00" r="1.05" fill="#BE0F2E"/>
<circle cx="473.80" cy="312.60" r="1.05" fill="#BE0F2E"/>
<circle cx="472.20" cy="320.40" r="1.05" fill="#BE0F2E"/>
<circle cx="488.60" cy="305.80" r="1.05" fill="#BE0F2E"/>
<circle cx="488.60" cy="312.60" r="1.05" fill="#BE0F2E"/>
<circle cx="488.60" cy="329.80" r="1.05" fill="#BE0F2E"/>
<circle cx="504.80" cy="298.30" r="1.05" fill="#BE0F2E"/>
<circle cx="504.80" cy="300.50" r="1.05" fill="#BE0F2E"/>
<circle cx="438.80" cy="343.00" r="1.5" fill="#E9941F"/>
<circle cx="458.40" cy="333.00" r="1.3" fill="#2a4a5a"/>
</svg>
<div class="frame"></div>
</body></html>
